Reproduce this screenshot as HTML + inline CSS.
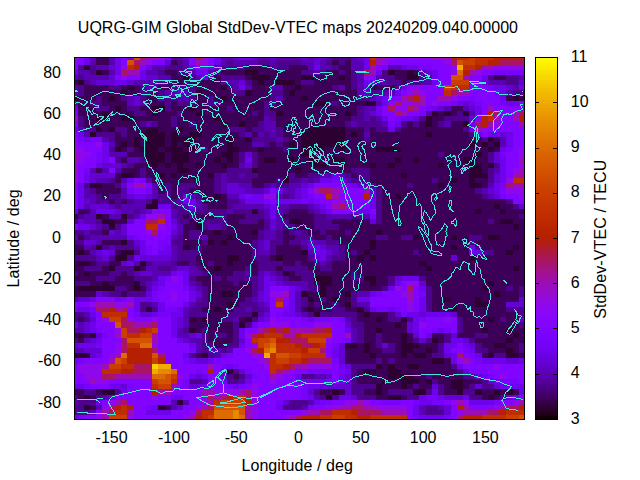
<!DOCTYPE html>
<html><head><meta charset="utf-8"><title>UQRG-GIM Global StdDev-VTEC map</title>
<style>
html,body{margin:0;padding:0;background:#fff;}
body{width:640px;height:480px;overflow:hidden;}
svg{display:block;}
text{font-family:"Liberation Sans",sans-serif;font-size:16px;fill:#000;}
</style></head><body>
<svg width="640" height="480" viewBox="0 0 640 480">
<rect width="640" height="480" fill="#fff"/>
<g shape-rendering="crispEdges">
<path fill="#2d0032" d="M84 65h6v5h-6zM96 70h6v5h-6zM245 70h13v5h-13zM388 70h7v5h-7zM407 70h6v5h-6zM183 75h6v5h-6zM252 75h18v5h-18zM301 75h13v5h-13zM339 75h6v5h-6zM407 75h12v5h-12zM78 80h6v5h-6zM258 80h6v5h-6zM276 80h19v5h-19zM127 85h7v5h-7zM221 85h6v5h-6zM295 85h6v5h-6zM121 90h6v6h-6zM196 90h6v6h-6zM245 90h7v6h-7zM289 90h6v6h-6zM74 96h4v5h-4zM109 96h6v5h-6zM221 96h6v5h-6zM301 96h7v5h-7zM513 96h6v5h-6zM314 101h12v5h-12zM364 101h12v5h-12zM115 106h6v5h-6zM152 106h13v5h-13zM189 106h7v5h-7zM102 111h7v5h-7zM152 111h6v5h-6zM196 111h6v5h-6zM276 111h7v5h-7zM345 111h6v5h-6zM432 111h6v5h-6zM444 111h7v5h-7zM463 111h6v5h-6zM96 116h13v5h-13zM121 116h13v5h-13zM214 116h7v5h-7zM426 116h6v5h-6zM221 121h6v6h-6zM239 121h6v6h-6zM426 121h6v6h-6zM463 121h6v6h-6zM96 127h6v5h-6zM109 127h6v5h-6zM146 127h12v5h-12zM177 127h6v5h-6zM308 127h37v5h-37zM90 132h6v5h-6zM140 132h25v5h-25zM171 132h6v5h-6zM189 132h13v5h-13zM301 132h44v5h-44zM351 132h6v5h-6zM426 132h6v5h-6zM134 137h6v5h-6zM146 137h19v5h-19zM171 137h25v5h-25zM227 137h6v5h-6zM245 137h7v5h-7zM301 137h44v5h-44zM488 137h6v5h-6zM121 142h6v5h-6zM134 142h6v5h-6zM146 142h19v5h-19zM171 142h6v5h-6zM183 142h6v5h-6zM227 142h6v5h-6zM289 142h6v5h-6zM301 142h44v5h-44zM469 142h6v5h-6zM482 142h6v5h-6zM494 142h6v5h-6zM115 147h6v5h-6zM140 147h18v5h-18zM165 147h18v5h-18zM189 147h7v5h-7zM227 147h12v5h-12zM258 147h6v5h-6zM301 147h25v5h-25zM339 147h6v5h-6zM376 147h25v5h-25zM488 147h6v5h-6zM146 152h19v5h-19zM171 152h18v5h-18zM221 152h12v5h-12zM301 152h13v5h-13zM475 152h7v5h-7zM146 157h19v6h-19zM171 157h18v6h-18zM214 157h7v6h-7zM227 157h6v6h-6zM264 157h12v6h-12zM289 157h6v6h-6zM308 157h12v6h-12zM332 157h13v6h-13zM395 157h6v6h-6zM413 157h6v6h-6zM463 157h12v6h-12zM152 163h6v5h-6zM165 163h6v5h-6zM177 163h6v5h-6zM196 163h6v5h-6zM221 163h6v5h-6zM314 163h12v5h-12zM339 163h6v5h-6zM370 163h6v5h-6zM388 163h7v5h-7zM438 163h6v5h-6zM469 163h13v5h-13zM488 163h6v5h-6zM177 168h12v5h-12zM252 168h6v5h-6zM295 168h6v5h-6zM469 168h13v5h-13zM121 173h13v5h-13zM158 173h7v5h-7zM171 173h6v5h-6zM208 173h6v5h-6zM401 173h6v5h-6zM469 173h19v5h-19zM283 178h6v5h-6zM451 178h6v5h-6zM469 178h6v5h-6zM90 183h12v5h-12zM438 183h6v5h-6zM469 183h13v5h-13zM214 194h7v5h-7zM395 194h6v5h-6zM152 199h6v5h-6zM146 204h12v5h-12zM494 204h6v5h-6zM252 209h6v5h-6zM475 209h7v5h-7zM500 209h6v5h-6zM96 214h6v5h-6zM121 214h6v5h-6zM102 219h13v5h-13zM289 219h12v5h-12zM500 219h13v5h-13zM109 224h6v6h-6zM196 224h6v6h-6zM513 224h6v6h-6zM214 230h7v5h-7zM252 230h6v5h-6zM376 230h6v5h-6zM227 235h6v5h-6zM413 235h6v5h-6zM451 235h6v5h-6zM488 235h12v5h-12zM121 240h6v5h-6zM208 240h6v5h-6zM221 240h6v5h-6zM370 240h6v5h-6zM96 245h6v5h-6zM183 245h6v5h-6zM370 245h6v5h-6zM451 245h6v5h-6zM513 245h6v5h-6zM78 250h6v5h-6zM121 250h13v5h-13zM301 250h7v5h-7zM364 250h6v5h-6zM506 250h7v5h-7zM115 255h12v6h-12zM227 255h12v6h-12zM276 255h7v6h-7zM357 255h7v6h-7zM370 255h6v6h-6zM469 255h6v6h-6zM78 261h12v5h-12zM140 261h6v5h-6zM227 261h6v5h-6zM419 261h7v5h-7zM109 266h6v5h-6zM134 266h6v5h-6zM214 266h7v5h-7zM426 266h6v5h-6zM513 266h6v5h-6zM84 271h6v5h-6zM283 271h6v5h-6zM314 276h18v5h-18zM364 276h12v5h-12zM102 281h7v5h-7zM134 281h6v5h-6zM320 281h12v5h-12zM370 281h6v5h-6zM488 281h6v5h-6zM78 286h37v5h-37zM134 286h6v5h-6zM320 286h6v5h-6zM482 286h6v5h-6zM221 291h12v6h-12zM301 291h7v6h-7zM320 291h6v6h-6zM345 291h6v6h-6zM494 291h6v6h-6zM308 297h6v5h-6zM332 297h7v5h-7zM444 297h7v5h-7zM475 297h7v5h-7zM227 302h6v5h-6zM345 302h6v5h-6zM475 302h13v5h-13zM146 307h6v5h-6zM214 307h7v5h-7zM308 307h6v5h-6zM357 307h7v5h-7zM451 307h6v5h-6zM252 312h6v5h-6zM314 312h6v5h-6zM364 312h6v5h-6zM189 317h7v5h-7zM202 317h6v5h-6zM245 317h7v5h-7zM376 317h6v5h-6zM401 317h6v5h-6zM488 317h6v5h-6zM239 322h6v6h-6zM395 322h6v6h-6zM189 328h7v5h-7zM376 328h6v5h-6zM482 328h6v5h-6zM506 328h7v5h-7zM78 333h6v5h-6zM90 333h6v5h-6zM401 333h6v5h-6zM513 333h6v5h-6zM401 338h6v5h-6zM432 338h6v5h-6zM506 338h7v5h-7zM345 343h12v5h-12zM364 343h6v5h-6zM401 343h18v5h-18zM494 343h12v5h-12zM364 348h6v5h-6zM401 348h12v5h-12zM426 348h6v5h-6zM506 348h7v5h-7zM74 353h16v5h-16zM202 353h6v5h-6zM370 353h6v5h-6zM401 353h6v5h-6zM413 353h13v5h-13zM488 353h6v5h-6zM506 353h13v5h-13zM432 358h12v6h-12zM376 364h6v5h-6zM388 364h7v5h-7zM407 364h12v5h-12zM227 369h6v5h-6zM364 369h12v5h-12zM388 369h13v5h-13zM388 374h25v5h-25zM382 379h6v5h-6zM401 379h18v5h-18zM426 379h6v5h-6zM451 379h12v5h-12zM376 384h6v5h-6zM401 384h6v5h-6zM451 384h12v5h-12zM102 389h13v6h-13zM332 389h7v6h-7zM376 389h6v6h-6zM413 389h13v6h-13zM457 389h6v6h-6zM475 389h7v6h-7zM494 389h6v6h-6zM506 389h7v6h-7zM84 395h6v5h-6zM326 395h6v5h-6zM388 395h13v5h-13zM488 395h6v5h-6zM177 400h6v5h-6zM84 405h6v5h-6zM158 405h7v5h-7z"/>
<path fill="#3c0058" d="M96 57h13v3h-13zM96 60h13v5h-13zM171 60h6v5h-6zM332 60h7v5h-7zM345 60h6v5h-6zM245 65h25v5h-25zM289 65h19v5h-19zM339 65h12v5h-12zM102 70h7v5h-7zM165 70h12v5h-12zM221 70h24v5h-24zM258 70h43v5h-43zM326 70h13v5h-13zM345 70h6v5h-6zM395 70h12v5h-12zM413 70h6v5h-6zM171 75h12v5h-12zM214 75h7v5h-7zM245 75h7v5h-7zM270 75h31v5h-31zM314 75h25v5h-25zM345 75h6v5h-6zM395 75h12v5h-12zM494 75h12v5h-12zM74 80h4v5h-4zM171 80h12v5h-12zM189 80h32v5h-32zM252 80h6v5h-6zM264 80h12v5h-12zM295 80h6v5h-6zM314 80h37v5h-37zM401 80h6v5h-6zM84 85h25v5h-25zM121 85h6v5h-6zM134 85h6v5h-6zM158 85h13v5h-13zM196 85h25v5h-25zM252 85h18v5h-18zM283 85h12v5h-12zM301 85h31v5h-31zM345 85h6v5h-6zM370 85h25v5h-25zM84 90h37v6h-37zM127 90h13v6h-13zM152 90h6v6h-6zM202 90h31v6h-31zM252 90h18v6h-18zM283 90h6v6h-6zM295 90h62v6h-62zM78 96h18v5h-18zM102 96h7v5h-7zM115 96h6v5h-6zM146 96h12v5h-12zM196 96h12v5h-12zM214 96h7v5h-7zM227 96h43v5h-43zM283 96h18v5h-18zM308 96h49v5h-49zM506 96h7v5h-7zM519 96h6v5h-6zM78 101h12v5h-12zM102 101h25v5h-25zM146 101h19v5h-19zM171 101h6v5h-6zM196 101h12v5h-12zM221 101h43v5h-43zM276 101h38v5h-38zM326 101h6v5h-6zM339 101h25v5h-25zM78 106h18v5h-18zM109 106h6v5h-6zM121 106h6v5h-6zM140 106h12v5h-12zM171 106h18v5h-18zM196 106h31v5h-31zM233 106h31v5h-31zM270 106h87v5h-87zM451 106h12v5h-12zM78 111h24v5h-24zM109 111h25v5h-25zM146 111h6v5h-6zM158 111h19v5h-19zM183 111h13v5h-13zM202 111h50v5h-50zM258 111h6v5h-6zM283 111h62v5h-62zM351 111h6v5h-6zM438 111h6v5h-6zM451 111h6v5h-6zM84 116h12v5h-12zM109 116h12v5h-12zM134 116h37v5h-37zM177 116h37v5h-37zM221 116h43v5h-43zM276 116h75v5h-75zM432 116h12v5h-12zM84 121h56v6h-56zM158 121h13v6h-13zM177 121h12v6h-12zM196 121h25v6h-25zM227 121h12v6h-12zM245 121h13v6h-13zM276 121h69v6h-69zM407 121h6v6h-6zM419 121h7v6h-7zM432 121h6v6h-6zM451 121h12v6h-12zM102 127h7v5h-7zM127 127h19v5h-19zM158 127h19v5h-19zM183 127h44v5h-44zM245 127h7v5h-7zM283 127h25v5h-25zM345 127h19v5h-19zM370 127h6v5h-6zM401 127h62v5h-62zM115 132h6v5h-6zM127 132h13v5h-13zM165 132h6v5h-6zM177 132h12v5h-12zM202 132h37v5h-37zM252 132h6v5h-6zM283 132h18v5h-18zM345 132h6v5h-6zM357 132h7v5h-7zM370 132h56v5h-56zM432 132h37v5h-37zM115 137h19v5h-19zM140 137h6v5h-6zM165 137h6v5h-6zM196 137h31v5h-31zM233 137h12v5h-12zM289 137h12v5h-12zM345 137h19v5h-19zM370 137h112v5h-112zM494 137h6v5h-6zM115 142h6v5h-6zM127 142h7v5h-7zM140 142h6v5h-6zM165 142h6v5h-6zM177 142h6v5h-6zM189 142h38v5h-38zM233 142h19v5h-19zM270 142h6v5h-6zM283 142h6v5h-6zM295 142h6v5h-6zM345 142h124v5h-124zM475 142h7v5h-7zM488 142h6v5h-6zM121 147h6v5h-6zM134 147h6v5h-6zM158 147h7v5h-7zM183 147h6v5h-6zM196 147h6v5h-6zM208 147h19v5h-19zM239 147h19v5h-19zM264 147h19v5h-19zM289 147h12v5h-12zM326 147h13v5h-13zM345 147h31v5h-31zM401 147h87v5h-87zM494 147h6v5h-6zM127 152h19v5h-19zM165 152h6v5h-6zM189 152h32v5h-32zM233 152h6v5h-6zM258 152h43v5h-43zM314 152h124v5h-124zM444 152h31v5h-31zM482 152h6v5h-6zM121 157h6v6h-6zM165 157h6v6h-6zM189 157h25v6h-25zM221 157h6v6h-6zM233 157h6v6h-6zM258 157h6v6h-6zM276 157h13v6h-13zM295 157h13v6h-13zM320 157h12v6h-12zM345 157h50v6h-50zM401 157h12v6h-12zM419 157h44v6h-44zM475 157h13v6h-13zM134 163h18v5h-18zM158 163h7v5h-7zM171 163h6v5h-6zM183 163h13v5h-13zM202 163h19v5h-19zM227 163h12v5h-12zM258 163h56v5h-56zM326 163h13v5h-13zM345 163h25v5h-25zM376 163h12v5h-12zM395 163h43v5h-43zM444 163h25v5h-25zM482 163h6v5h-6zM96 168h6v5h-6zM121 168h19v5h-19zM146 168h31v5h-31zM189 168h38v5h-38zM258 168h37v5h-37zM301 168h50v5h-50zM370 168h99v5h-99zM482 168h6v5h-6zM115 173h6v5h-6zM134 173h6v5h-6zM146 173h12v5h-12zM165 173h6v5h-6zM177 173h31v5h-31zM258 173h31v5h-31zM295 173h13v5h-13zM351 173h6v5h-6zM370 173h31v5h-31zM407 173h62v5h-62zM115 178h6v5h-6zM152 178h62v5h-62zM252 178h24v5h-24zM370 178h62v5h-62zM438 178h13v5h-13zM457 178h12v5h-12zM475 178h13v5h-13zM102 183h13v5h-13zM158 183h7v5h-7zM171 183h6v5h-6zM196 183h18v5h-18zM252 183h12v5h-12zM376 183h31v5h-31zM413 183h25v5h-25zM444 183h25v5h-25zM482 183h6v5h-6zM96 188h25v6h-25zM158 188h7v6h-7zM171 188h6v6h-6zM189 188h25v6h-25zM382 188h93v6h-93zM102 194h7v5h-7zM171 194h6v5h-6zM202 194h12v5h-12zM221 194h6v5h-6zM382 194h13v5h-13zM401 194h81v5h-81zM109 199h6v5h-6zM121 199h6v5h-6zM202 199h25v5h-25zM382 199h124v5h-124zM208 204h19v5h-19zM382 204h112v5h-112zM500 204h13v5h-13zM78 209h12v5h-12zM289 209h19v5h-19zM382 209h93v5h-93zM482 209h18v5h-18zM506 209h19v5h-19zM74 214h4v5h-4zM102 214h7v5h-7zM183 214h6v5h-6zM196 214h18v5h-18zM227 214h18v5h-18zM283 214h31v5h-31zM382 214h137v5h-137zM115 219h12v5h-12zM189 219h13v5h-13zM227 219h12v5h-12zM258 219h6v5h-6zM301 219h13v5h-13zM332 219h38v5h-38zM382 219h106v5h-106zM494 219h6v5h-6zM513 219h12v5h-12zM183 224h13v6h-13zM227 224h37v6h-37zM295 224h19v6h-19zM339 224h174v6h-174zM519 224h6v6h-6zM102 230h7v5h-7zM183 230h6v5h-6zM202 230h12v5h-12zM221 230h31v5h-31zM283 230h6v5h-6zM308 230h12v5h-12zM326 230h19v5h-19zM351 230h25v5h-25zM382 230h143v5h-143zM78 235h6v5h-6zM183 235h6v5h-6zM208 235h19v5h-19zM233 235h25v5h-25zM283 235h12v5h-12zM314 235h12v5h-12zM332 235h44v5h-44zM388 235h13v5h-13zM419 235h32v5h-32zM457 235h12v5h-12zM482 235h6v5h-6zM500 235h25v5h-25zM102 240h19v5h-19zM183 240h19v5h-19zM214 240h7v5h-7zM227 240h25v5h-25zM283 240h6v5h-6zM339 240h31v5h-31zM376 240h93v5h-93zM475 240h50v5h-50zM74 245h10v5h-10zM189 245h7v5h-7zM202 245h50v5h-50zM276 245h25v5h-25zM345 245h25v5h-25zM376 245h75v5h-75zM457 245h12v5h-12zM482 245h31v5h-31zM519 245h6v5h-6zM74 250h4v5h-4zM84 250h6v5h-6zM115 250h6v5h-6zM202 250h50v5h-50zM276 250h25v5h-25zM345 250h6v5h-6zM357 250h7v5h-7zM370 250h43v5h-43zM419 250h50v5h-50zM494 250h12v5h-12zM513 250h12v5h-12zM196 255h31v6h-31zM239 255h13v6h-13zM270 255h6v6h-6zM283 255h25v6h-25zM345 255h12v6h-12zM364 255h6v6h-6zM376 255h75v6h-75zM457 255h12v6h-12zM475 255h50v6h-50zM74 261h4v5h-4zM90 261h6v5h-6zM109 261h12v5h-12zM177 261h12v5h-12zM196 261h12v5h-12zM214 261h13v5h-13zM233 261h25v5h-25zM283 261h12v5h-12zM301 261h13v5h-13zM332 261h87v5h-87zM426 261h99v5h-99zM74 266h10v5h-10zM102 266h7v5h-7zM140 266h6v5h-6zM202 266h12v5h-12zM221 266h24v5h-24zM252 266h6v5h-6zM276 266h7v5h-7zM308 266h12v5h-12zM332 266h94v5h-94zM432 266h81v5h-81zM519 266h6v5h-6zM78 271h6v5h-6zM90 271h19v5h-19zM121 271h6v5h-6zM208 271h25v5h-25zM252 271h6v5h-6zM289 271h6v5h-6zM314 271h37v5h-37zM357 271h168v5h-168zM74 276h22v5h-22zM115 276h19v5h-19zM196 276h18v5h-18zM221 276h6v5h-6zM289 276h12v5h-12zM332 276h19v5h-19zM376 276h12v5h-12zM426 276h99v5h-99zM90 281h12v5h-12zM109 281h25v5h-25zM202 281h31v5h-31zM239 281h13v5h-13zM314 281h6v5h-6zM332 281h38v5h-38zM376 281h12v5h-12zM426 281h62v5h-62zM494 281h31v5h-31zM74 286h4v5h-4zM127 286h7v5h-7zM140 286h6v5h-6zM208 286h44v5h-44zM326 286h56v5h-56zM432 286h50v5h-50zM488 286h18v5h-18zM513 286h6v5h-6zM74 291h22v6h-22zM121 291h6v6h-6zM208 291h13v6h-13zM233 291h19v6h-19zM308 291h12v6h-12zM326 291h19v6h-19zM432 291h62v6h-62zM500 291h19v6h-19zM208 297h37v5h-37zM314 297h6v5h-6zM326 297h6v5h-6zM339 297h12v5h-12zM432 297h12v5h-12zM451 297h24v5h-24zM482 297h37v5h-37zM208 302h19v5h-19zM233 302h6v5h-6zM308 302h6v5h-6zM320 302h12v5h-12zM339 302h6v5h-6zM432 302h43v5h-43zM488 302h18v5h-18zM202 307h12v5h-12zM221 307h12v5h-12zM301 307h7v5h-7zM314 307h18v5h-18zM345 307h12v5h-12zM432 307h19v5h-19zM457 307h49v5h-49zM208 312h19v5h-19zM357 312h7v5h-7zM370 312h18v5h-18zM457 312h62v5h-62zM78 317h6v5h-6zM196 317h6v5h-6zM208 317h13v5h-13zM239 317h6v5h-6zM357 317h19v5h-19zM382 317h6v5h-6zM463 317h25v5h-25zM494 317h6v5h-6zM506 317h13v5h-13zM189 322h44v6h-44zM364 322h31v6h-31zM401 322h6v6h-6zM463 322h56v6h-56zM196 328h6v5h-6zM208 328h25v5h-25zM364 328h12v5h-12zM382 328h25v5h-25zM463 328h19v5h-19zM488 328h18v5h-18zM513 328h12v5h-12zM74 333h4v5h-4zM84 333h6v5h-6zM208 333h6v5h-6zM227 333h6v5h-6zM364 333h12v5h-12zM382 333h19v5h-19zM407 333h6v5h-6zM432 333h12v5h-12zM457 333h18v5h-18zM488 333h25v5h-25zM519 333h6v5h-6zM78 338h6v5h-6zM208 338h25v5h-25zM364 338h12v5h-12zM382 338h19v5h-19zM407 338h6v5h-6zM438 338h6v5h-6zM475 338h31v5h-31zM513 338h12v5h-12zM214 343h13v5h-13zM357 343h7v5h-7zM370 343h6v5h-6zM395 343h6v5h-6zM419 343h19v5h-19zM482 343h12v5h-12zM506 343h13v5h-13zM345 348h19v5h-19zM370 348h12v5h-12zM395 348h6v5h-6zM413 348h13v5h-13zM432 348h6v5h-6zM488 348h18v5h-18zM513 348h6v5h-6zM196 353h6v5h-6zM345 353h25v5h-25zM376 353h25v5h-25zM407 353h6v5h-6zM426 353h6v5h-6zM482 353h6v5h-6zM519 353h6v5h-6zM345 358h31v6h-31zM382 358h6v6h-6zM395 358h37v6h-37zM444 358h7v6h-7zM382 364h6v5h-6zM395 364h12v5h-12zM419 364h32v5h-32zM357 369h7v5h-7zM376 369h12v5h-12zM401 369h56v5h-56zM233 374h6v5h-6zM357 374h31v5h-31zM413 374h13v5h-13zM432 374h31v5h-31zM357 379h25v5h-25zM388 379h13v5h-13zM419 379h7v5h-7zM438 379h13v5h-13zM463 379h19v5h-19zM382 384h19v5h-19zM407 384h6v5h-6zM419 384h13v5h-13zM444 384h7v5h-7zM463 384h6v5h-6zM74 389h10v6h-10zM96 389h6v6h-6zM320 389h12v6h-12zM339 389h6v6h-6zM364 389h12v6h-12zM382 389h6v6h-6zM444 389h13v6h-13zM482 389h12v6h-12zM500 389h6v6h-6zM513 389h6v6h-6zM78 395h6v5h-6zM90 395h6v5h-6zM376 395h12v5h-12zM401 395h6v5h-6zM482 395h6v5h-6zM494 395h6v5h-6zM90 405h6v5h-6zM165 405h6v5h-6z"/>
<path fill="#4e008e" d="M332 57h19v3h-19zM177 60h6v5h-6zM227 60h6v5h-6zM258 60h12v5h-12zM276 60h25v5h-25zM326 60h6v5h-6zM339 60h6v5h-6zM78 65h6v5h-6zM90 65h6v5h-6zM165 65h18v5h-18zM221 65h24v5h-24zM270 65h19v5h-19zM332 65h7v5h-7zM90 70h6v5h-6zM158 70h7v5h-7zM177 70h12v5h-12zM214 70h7v5h-7zM301 70h13v5h-13zM320 70h6v5h-6zM339 70h6v5h-6zM351 70h6v5h-6zM382 70h6v5h-6zM78 75h6v5h-6zM189 75h7v5h-7zM208 75h6v5h-6zM221 75h24v5h-24zM351 75h6v5h-6zM382 75h13v5h-13zM419 75h7v5h-7zM488 75h6v5h-6zM506 75h13v5h-13zM84 80h6v5h-6zM158 80h13v5h-13zM183 80h6v5h-6zM221 80h6v5h-6zM245 80h7v5h-7zM301 80h13v5h-13zM351 80h6v5h-6zM388 80h13v5h-13zM407 80h12v5h-12zM506 80h13v5h-13zM78 85h6v5h-6zM109 85h12v5h-12zM140 85h6v5h-6zM152 85h6v5h-6zM171 85h25v5h-25zM227 85h6v5h-6zM332 85h7v5h-7zM351 85h6v5h-6zM395 85h6v5h-6zM78 90h6v6h-6zM140 90h12v6h-12zM158 90h7v6h-7zM189 90h7v6h-7zM233 90h12v6h-12zM270 90h13v6h-13zM370 90h12v6h-12zM513 90h12v6h-12zM96 96h6v5h-6zM121 96h6v5h-6zM140 96h6v5h-6zM165 96h12v5h-12zM189 96h7v5h-7zM208 96h6v5h-6zM270 96h6v5h-6zM357 96h13v5h-13zM90 101h12v5h-12zM165 101h6v5h-6zM177 101h19v5h-19zM208 101h13v5h-13zM264 101h12v5h-12zM332 101h7v5h-7zM96 106h13v5h-13zM127 106h13v5h-13zM165 106h6v5h-6zM227 106h6v5h-6zM264 106h6v5h-6zM357 106h7v5h-7zM134 111h12v5h-12zM177 111h6v5h-6zM252 111h6v5h-6zM264 111h12v5h-12zM357 111h7v5h-7zM457 111h6v5h-6zM78 116h6v5h-6zM171 116h6v5h-6zM270 116h6v5h-6zM351 116h13v5h-13zM370 116h6v5h-6zM419 116h7v5h-7zM444 116h25v5h-25zM78 121h6v6h-6zM140 121h6v6h-6zM152 121h6v6h-6zM171 121h6v6h-6zM189 121h7v6h-7zM258 121h6v6h-6zM345 121h6v6h-6zM357 121h25v6h-25zM401 121h6v6h-6zM413 121h6v6h-6zM438 121h6v6h-6zM84 127h12v5h-12zM115 127h12v5h-12zM227 127h18v5h-18zM252 127h12v5h-12zM276 127h7v5h-7zM364 127h6v5h-6zM376 127h12v5h-12zM395 127h6v5h-6zM463 127h6v5h-6zM96 132h19v5h-19zM121 132h6v5h-6zM239 132h6v5h-6zM264 132h6v5h-6zM276 132h7v5h-7zM469 132h6v5h-6zM109 137h6v5h-6zM252 137h24v5h-24zM283 137h6v5h-6zM364 137h6v5h-6zM482 137h6v5h-6zM264 142h6v5h-6zM276 142h7v5h-7zM109 147h6v5h-6zM127 147h7v5h-7zM202 147h6v5h-6zM283 147h6v5h-6zM239 152h6v5h-6zM252 152h6v5h-6zM438 152h6v5h-6zM488 152h6v5h-6zM115 157h6v6h-6zM140 157h6v6h-6zM239 157h6v6h-6zM252 157h6v6h-6zM488 157h6v6h-6zM127 163h7v5h-7zM252 163h6v5h-6zM494 163h6v5h-6zM140 168h6v5h-6zM227 168h25v5h-25zM351 168h19v5h-19zM488 168h6v5h-6zM140 173h6v5h-6zM214 173h7v5h-7zM227 173h12v5h-12zM245 173h13v5h-13zM289 173h6v5h-6zM308 173h12v5h-12zM345 173h6v5h-6zM357 173h13v5h-13zM488 173h6v5h-6zM109 178h6v5h-6zM214 178h7v5h-7zM227 178h25v5h-25zM276 178h7v5h-7zM289 178h12v5h-12zM308 178h6v5h-6zM351 178h19v5h-19zM432 178h6v5h-6zM488 178h6v5h-6zM84 183h6v5h-6zM115 183h6v5h-6zM165 183h6v5h-6zM177 183h19v5h-19zM214 183h7v5h-7zM264 183h6v5h-6zM276 183h13v5h-13zM370 183h6v5h-6zM407 183h6v5h-6zM90 188h6v6h-6zM165 188h6v6h-6zM177 188h12v6h-12zM214 188h7v6h-7zM376 188h6v6h-6zM475 188h7v6h-7zM96 194h6v5h-6zM109 194h12v5h-12zM158 194h13v5h-13zM177 194h6v5h-6zM196 194h6v5h-6zM283 194h6v5h-6zM376 194h6v5h-6zM482 194h6v5h-6zM96 199h13v5h-13zM115 199h6v5h-6zM127 199h7v5h-7zM146 199h6v5h-6zM158 199h19v5h-19zM227 199h12v5h-12zM376 199h6v5h-6zM506 199h7v5h-7zM115 204h6v5h-6zM171 204h12v5h-12zM202 204h6v5h-6zM227 204h6v5h-6zM289 204h19v5h-19zM376 204h6v5h-6zM513 204h6v5h-6zM134 209h6v5h-6zM177 209h12v5h-12zM196 209h31v5h-31zM233 209h19v5h-19zM258 209h6v5h-6zM283 209h6v5h-6zM308 209h6v5h-6zM376 209h6v5h-6zM78 214h6v5h-6zM127 214h7v5h-7zM177 214h6v5h-6zM189 214h7v5h-7zM214 214h13v5h-13zM245 214h19v5h-19zM314 214h12v5h-12zM351 214h13v5h-13zM376 214h6v5h-6zM519 214h6v5h-6zM74 219h4v5h-4zM96 219h6v5h-6zM177 219h12v5h-12zM202 219h25v5h-25zM239 219h19v5h-19zM264 219h6v5h-6zM283 219h6v5h-6zM314 219h18v5h-18zM376 219h6v5h-6zM488 219h6v5h-6zM102 224h7v6h-7zM115 224h6v6h-6zM202 224h6v6h-6zM221 224h6v6h-6zM264 224h6v6h-6zM283 224h12v6h-12zM314 224h25v6h-25zM74 230h10v5h-10zM90 230h12v5h-12zM189 230h13v5h-13zM258 230h6v5h-6zM276 230h7v5h-7zM289 230h6v5h-6zM301 230h7v5h-7zM320 230h6v5h-6zM345 230h6v5h-6zM84 235h6v5h-6zM177 235h6v5h-6zM189 235h13v5h-13zM258 235h6v5h-6zM276 235h7v5h-7zM295 235h19v5h-19zM326 235h6v5h-6zM376 235h12v5h-12zM401 235h12v5h-12zM469 235h13v5h-13zM74 240h10v5h-10zM127 240h7v5h-7zM171 240h12v5h-12zM202 240h6v5h-6zM252 240h6v5h-6zM270 240h13v5h-13zM289 240h12v5h-12zM326 240h13v5h-13zM469 240h6v5h-6zM90 245h6v5h-6zM102 245h7v5h-7zM115 245h19v5h-19zM177 245h6v5h-6zM196 245h6v5h-6zM252 245h6v5h-6zM270 245h6v5h-6zM301 245h7v5h-7zM339 245h6v5h-6zM475 245h7v5h-7zM134 250h6v5h-6zM177 250h25v5h-25zM252 250h6v5h-6zM270 250h6v5h-6zM339 250h6v5h-6zM351 250h6v5h-6zM413 250h6v5h-6zM482 250h12v5h-12zM74 255h22v6h-22zM109 255h6v6h-6zM127 255h7v6h-7zM177 255h19v6h-19zM252 255h18v6h-18zM308 255h6v6h-6zM332 255h13v6h-13zM96 261h13v5h-13zM146 261h6v5h-6zM171 261h6v5h-6zM189 261h7v5h-7zM208 261h6v5h-6zM258 261h25v5h-25zM295 261h6v5h-6zM314 261h6v5h-6zM326 261h6v5h-6zM84 266h18v5h-18zM115 266h19v5h-19zM158 266h13v5h-13zM196 266h6v5h-6zM245 266h7v5h-7zM258 266h18v5h-18zM283 266h25v5h-25zM320 266h12v5h-12zM74 271h4v5h-4zM109 271h12v5h-12zM127 271h7v5h-7zM202 271h6v5h-6zM233 271h12v5h-12zM276 271h7v5h-7zM295 271h19v5h-19zM351 271h6v5h-6zM96 276h19v5h-19zM134 276h18v5h-18zM189 276h7v5h-7zM214 276h7v5h-7zM227 276h31v5h-31zM283 276h6v5h-6zM301 276h13v5h-13zM351 276h13v5h-13zM388 276h7v5h-7zM419 276h7v5h-7zM74 281h16v5h-16zM140 281h6v5h-6zM196 281h6v5h-6zM233 281h6v5h-6zM252 281h6v5h-6zM308 281h6v5h-6zM388 281h7v5h-7zM115 286h12v5h-12zM202 286h6v5h-6zM252 286h6v5h-6zM308 286h12v5h-12zM382 286h6v5h-6zM426 286h6v5h-6zM506 286h7v5h-7zM519 286h6v5h-6zM109 291h12v6h-12zM127 291h19v6h-19zM202 291h6v6h-6zM252 291h6v6h-6zM351 291h6v6h-6zM426 291h6v6h-6zM519 291h6v6h-6zM202 297h6v5h-6zM245 297h7v5h-7zM301 297h7v5h-7zM320 297h6v5h-6zM351 297h6v5h-6zM426 297h6v5h-6zM140 302h12v5h-12zM196 302h12v5h-12zM239 302h19v5h-19zM301 302h7v5h-7zM314 302h6v5h-6zM332 302h7v5h-7zM351 302h6v5h-6zM426 302h6v5h-6zM140 307h6v5h-6zM152 307h6v5h-6zM189 307h13v5h-13zM233 307h12v5h-12zM252 307h12v5h-12zM332 307h13v5h-13zM364 307h6v5h-6zM426 307h6v5h-6zM506 307h19v5h-19zM74 312h10v5h-10zM189 312h19v5h-19zM227 312h25v5h-25zM308 312h6v5h-6zM320 312h37v5h-37zM388 312h7v5h-7zM519 312h6v5h-6zM74 317h4v5h-4zM84 317h6v5h-6zM221 317h12v5h-12zM252 317h6v5h-6zM351 317h6v5h-6zM388 317h13v5h-13zM407 317h6v5h-6zM457 317h6v5h-6zM500 317h6v5h-6zM233 322h6v6h-6zM245 322h7v6h-7zM351 322h13v6h-13zM457 322h6v6h-6zM519 322h6v6h-6zM183 328h6v5h-6zM202 328h6v5h-6zM233 328h6v5h-6zM357 328h7v5h-7zM457 328h6v5h-6zM202 333h6v5h-6zM214 333h13v5h-13zM233 333h6v5h-6zM357 333h7v5h-7zM376 333h6v5h-6zM444 333h7v5h-7zM475 333h13v5h-13zM74 338h4v5h-4zM202 338h6v5h-6zM233 338h6v5h-6zM357 338h7v5h-7zM376 338h6v5h-6zM413 338h6v5h-6zM426 338h6v5h-6zM444 338h7v5h-7zM469 338h6v5h-6zM202 343h12v5h-12zM227 343h12v5h-12zM376 343h6v5h-6zM388 343h7v5h-7zM438 343h6v5h-6zM475 343h7v5h-7zM519 343h6v5h-6zM202 348h6v5h-6zM221 348h6v5h-6zM382 348h13v5h-13zM438 348h6v5h-6zM475 348h13v5h-13zM519 348h6v5h-6zM189 353h7v5h-7zM208 353h6v5h-6zM432 353h12v5h-12zM494 353h12v5h-12zM376 358h6v6h-6zM388 358h7v6h-7zM351 364h25v5h-25zM451 364h6v5h-6zM233 369h6v5h-6zM351 369h6v5h-6zM457 369h6v5h-6zM227 374h6v5h-6zM239 374h6v5h-6zM301 374h13v5h-13zM351 374h6v5h-6zM426 374h6v5h-6zM463 374h12v5h-12zM189 379h13v5h-13zM227 379h12v5h-12zM351 379h6v5h-6zM432 379h6v5h-6zM482 379h6v5h-6zM351 384h25v5h-25zM413 384h6v5h-6zM438 384h6v5h-6zM469 384h6v5h-6zM482 384h12v5h-12zM84 389h12v6h-12zM115 389h6v6h-6zM314 389h6v6h-6zM351 389h13v6h-13zM388 389h25v6h-25zM426 389h6v6h-6zM438 389h6v6h-6zM463 389h12v6h-12zM74 395h4v5h-4zM96 395h6v5h-6zM320 395h6v5h-6zM332 395h7v5h-7zM357 395h19v5h-19zM407 395h12v5h-12zM469 395h13v5h-13zM500 395h6v5h-6zM78 400h18v5h-18zM289 400h19v5h-19zM74 405h10v5h-10zM283 405h18v5h-18zM426 405h12v5h-12zM74 410h16v5h-16zM426 410h18v5h-18z"/>
<path fill="#5a00b4" d="M90 57h6v3h-6zM109 57h6v3h-6zM171 57h12v3h-12zM221 57h12v3h-12zM258 57h12v3h-12zM276 57h25v3h-25zM308 57h6v3h-6zM326 57h6v3h-6zM351 57h6v3h-6zM90 60h6v5h-6zM109 60h6v5h-6zM183 60h6v5h-6zM221 60h6v5h-6zM233 60h25v5h-25zM270 60h6v5h-6zM301 60h13v5h-13zM320 60h6v5h-6zM351 60h13v5h-13zM96 65h13v5h-13zM152 65h13v5h-13zM183 65h6v5h-6zM214 65h7v5h-7zM308 65h6v5h-6zM320 65h12v5h-12zM351 65h13v5h-13zM388 65h13v5h-13zM78 70h12v5h-12zM109 70h6v5h-6zM146 70h12v5h-12zM189 70h7v5h-7zM208 70h6v5h-6zM314 70h6v5h-6zM357 70h7v5h-7zM419 70h7v5h-7zM74 75h4v5h-4zM84 75h25v5h-25zM158 75h13v5h-13zM196 75h6v5h-6zM357 75h7v5h-7zM376 75h6v5h-6zM426 75h6v5h-6zM519 75h6v5h-6zM90 80h6v5h-6zM134 80h24v5h-24zM227 80h12v5h-12zM357 80h7v5h-7zM376 80h12v5h-12zM419 80h13v5h-13zM488 80h18v5h-18zM74 85h4v5h-4zM146 85h6v5h-6zM233 85h6v5h-6zM245 85h7v5h-7zM270 85h13v5h-13zM339 85h6v5h-6zM357 85h7v5h-7zM513 85h6v5h-6zM74 90h4v6h-4zM165 90h12v6h-12zM183 90h6v6h-6zM357 90h7v6h-7zM382 90h13v6h-13zM506 90h7v6h-7zM127 96h7v5h-7zM158 96h7v5h-7zM177 96h12v5h-12zM276 96h7v5h-7zM370 96h6v5h-6zM74 101h4v5h-4zM127 101h7v5h-7zM140 101h6v5h-6zM376 101h6v5h-6zM364 106h12v5h-12zM444 106h7v5h-7zM463 106h6v5h-6zM364 111h6v5h-6zM426 111h6v5h-6zM469 111h6v5h-6zM264 116h6v5h-6zM364 116h6v5h-6zM376 116h6v5h-6zM146 121h6v6h-6zM264 121h12v6h-12zM351 121h6v6h-6zM382 121h6v6h-6zM444 121h7v6h-7zM78 127h6v5h-6zM264 127h12v5h-12zM84 132h6v5h-6zM245 132h7v5h-7zM258 132h6v5h-6zM270 132h6v5h-6zM364 132h6v5h-6zM102 137h7v5h-7zM276 137h7v5h-7zM500 137h6v5h-6zM109 142h6v5h-6zM252 142h12v5h-12zM500 142h6v5h-6zM109 152h18v5h-18zM127 157h13v6h-13zM121 163h6v5h-6zM239 163h6v5h-6zM90 168h6v5h-6zM102 168h7v5h-7zM115 168h6v5h-6zM494 168h6v5h-6zM221 173h6v5h-6zM239 173h6v5h-6zM320 173h12v5h-12zM339 173h6v5h-6zM96 178h13v5h-13zM121 178h6v5h-6zM146 178h6v5h-6zM221 178h6v5h-6zM301 178h7v5h-7zM314 178h6v5h-6zM345 178h6v5h-6zM152 183h6v5h-6zM221 183h6v5h-6zM239 183h13v5h-13zM270 183h6v5h-6zM289 183h12v5h-12zM364 183h6v5h-6zM488 183h6v5h-6zM84 188h6v6h-6zM121 188h6v6h-6zM152 188h6v6h-6zM221 188h6v6h-6zM245 188h19v6h-19zM283 188h12v6h-12zM482 188h6v6h-6zM84 194h12v5h-12zM121 194h6v5h-6zM152 194h6v5h-6zM189 194h7v5h-7zM227 194h12v5h-12zM276 194h7v5h-7zM289 194h6v5h-6zM488 194h6v5h-6zM90 199h6v5h-6zM134 199h12v5h-12zM177 199h6v5h-6zM196 199h6v5h-6zM239 199h6v5h-6zM84 204h6v5h-6zM109 204h6v5h-6zM121 204h25v5h-25zM183 204h6v5h-6zM196 204h6v5h-6zM233 204h31v5h-31zM276 204h13v5h-13zM308 204h6v5h-6zM90 209h6v5h-6zM121 209h13v5h-13zM140 209h6v5h-6zM171 209h6v5h-6zM189 209h7v5h-7zM227 209h6v5h-6zM264 209h6v5h-6zM276 209h7v5h-7zM314 209h6v5h-6zM84 214h12v5h-12zM109 214h12v5h-12zM134 214h6v5h-6zM171 214h6v5h-6zM264 214h6v5h-6zM276 214h7v5h-7zM326 214h25v5h-25zM364 214h6v5h-6zM84 219h12v5h-12zM276 219h7v5h-7zM96 224h6v6h-6zM177 224h6v6h-6zM208 224h13v6h-13zM276 224h7v6h-7zM84 230h6v5h-6zM115 230h6v5h-6zM177 230h6v5h-6zM264 230h12v5h-12zM295 230h6v5h-6zM74 235h4v5h-4zM90 235h37v5h-37zM171 235h6v5h-6zM202 235h6v5h-6zM264 235h12v5h-12zM96 240h6v5h-6zM258 240h6v5h-6zM301 240h7v5h-7zM314 240h12v5h-12zM84 245h6v5h-6zM109 245h6v5h-6zM134 245h6v5h-6zM171 245h6v5h-6zM258 245h6v5h-6zM326 245h13v5h-13zM90 250h6v5h-6zM171 250h6v5h-6zM258 250h12v5h-12zM308 250h6v5h-6zM332 250h7v5h-7zM96 255h6v6h-6zM171 255h6v6h-6zM326 255h6v6h-6zM134 261h6v5h-6zM152 261h19v5h-19zM320 261h6v5h-6zM146 266h12v5h-12zM171 266h6v5h-6zM189 266h7v5h-7zM134 271h6v5h-6zM152 271h19v5h-19zM189 271h13v5h-13zM245 271h7v5h-7zM258 271h6v5h-6zM270 271h6v5h-6zM152 276h6v5h-6zM258 276h6v5h-6zM276 276h7v5h-7zM146 281h6v5h-6zM189 281h7v5h-7zM258 281h6v5h-6zM283 281h25v5h-25zM146 286h6v5h-6zM196 286h6v5h-6zM258 286h6v5h-6zM301 286h7v5h-7zM102 291h7v6h-7zM295 291h6v6h-6zM357 291h13v6h-13zM74 297h4v5h-4zM196 297h6v5h-6zM252 297h6v5h-6zM295 297h6v5h-6zM152 302h6v5h-6zM189 302h7v5h-7zM258 302h6v5h-6zM295 302h6v5h-6zM357 302h13v5h-13zM183 307h6v5h-6zM245 307h7v5h-7zM264 307h6v5h-6zM295 307h6v5h-6zM84 312h6v5h-6zM183 312h6v5h-6zM258 312h6v5h-6zM301 312h7v5h-7zM183 317h6v5h-6zM233 317h6v5h-6zM345 317h6v5h-6zM78 322h6v6h-6zM183 322h6v6h-6zM74 328h10v5h-10zM177 328h6v5h-6zM351 328h6v5h-6zM177 333h12v5h-12zM351 333h6v5h-6zM84 338h6v5h-6zM189 338h13v5h-13zM351 338h6v5h-6zM196 343h6v5h-6zM74 348h10v5h-10zM196 348h6v5h-6zM208 348h13v5h-13zM227 348h6v5h-6zM214 353h7v5h-7zM314 374h12v5h-12zM202 379h6v5h-6zM239 379h6v5h-6zM102 395h7v5h-7zM314 395h6v5h-6zM74 400h4v5h-4zM171 400h6v5h-6zM183 400h6v5h-6zM308 400h6v5h-6zM96 405h6v5h-6zM171 405h6v5h-6zM301 405h7v5h-7zM419 405h7v5h-7zM438 405h6v5h-6zM90 410h6v5h-6zM419 410h7v5h-7z"/>
<path fill="#6501d4" d="M183 57h6v3h-6zM233 57h6v3h-6zM252 57h6v3h-6zM270 57h6v3h-6zM301 57h7v3h-7zM314 57h12v3h-12zM357 57h7v3h-7zM165 60h6v5h-6zM314 60h6v5h-6zM109 65h6v5h-6zM401 65h6v5h-6zM426 70h6v5h-6zM109 75h6v5h-6zM146 75h12v5h-12zM96 80h19v5h-19zM127 80h7v5h-7zM239 80h6v5h-6zM482 80h6v5h-6zM519 80h6v5h-6zM364 85h6v5h-6zM506 85h7v5h-7zM177 90h6v6h-6zM364 90h6v6h-6zM134 96h6v5h-6zM376 96h6v5h-6zM134 101h6v5h-6zM463 101h6v5h-6zM438 106h6v5h-6zM469 106h6v5h-6zM370 111h6v5h-6zM413 116h6v5h-6zM469 116h6v5h-6zM500 132h6v5h-6zM245 152h7v5h-7zM494 152h6v5h-6zM494 157h6v6h-6zM102 163h19v5h-19zM245 163h7v5h-7zM90 173h25v5h-25zM494 173h6v5h-6zM90 178h6v5h-6zM494 178h6v5h-6zM121 183h6v5h-6zM227 183h12v5h-12zM301 183h7v5h-7zM357 183h7v5h-7zM227 188h18v6h-18zM264 188h6v6h-6zM295 188h6v6h-6zM370 188h6v6h-6zM488 188h6v6h-6zM127 194h7v5h-7zM146 194h6v5h-6zM295 194h6v5h-6zM494 194h6v5h-6zM84 199h6v5h-6zM90 204h19v5h-19zM264 204h6v5h-6zM314 204h6v5h-6zM519 204h6v5h-6zM115 209h6v5h-6zM146 209h6v5h-6zM320 209h6v5h-6zM78 219h6v5h-6zM127 219h7v5h-7zM171 219h6v5h-6zM270 219h6v5h-6zM370 219h6v5h-6zM90 224h6v6h-6zM121 224h6v6h-6zM270 224h6v6h-6zM109 230h6v5h-6zM121 230h6v5h-6zM171 230h6v5h-6zM84 240h12v5h-12zM134 240h6v5h-6zM264 240h6v5h-6zM308 240h6v5h-6zM264 245h6v5h-6zM308 245h6v5h-6zM320 245h6v5h-6zM96 250h6v5h-6zM109 250h6v5h-6zM326 250h6v5h-6zM102 255h7v6h-7zM140 255h31v6h-31zM314 255h6v6h-6zM451 255h6v6h-6zM121 261h6v5h-6zM177 266h12v5h-12zM140 271h12v5h-12zM264 271h6v5h-6zM270 276h6v5h-6zM395 276h6v5h-6zM152 281h6v5h-6zM276 281h7v5h-7zM419 281h7v5h-7zM189 286h7v5h-7zM295 286h6v5h-6zM96 291h6v6h-6zM146 291h6v6h-6zM196 291h6v6h-6zM258 291h6v6h-6zM78 297h12v5h-12zM258 297h6v5h-6zM519 297h6v5h-6zM264 302h6v5h-6zM506 302h19v5h-19zM140 312h12v5h-12zM264 312h6v5h-6zM295 312h6v5h-6zM395 312h6v5h-6zM419 312h7v5h-7zM451 312h6v5h-6zM90 317h6v5h-6zM177 317h6v5h-6zM258 317h6v5h-6zM519 317h6v5h-6zM84 322h6v6h-6zM177 322h6v6h-6zM345 322h6v6h-6zM407 322h6v6h-6zM84 328h6v5h-6zM407 328h6v5h-6zM96 333h6v5h-6zM189 333h7v5h-7zM413 333h6v5h-6zM451 333h6v5h-6zM90 338h6v5h-6zM183 338h6v5h-6zM239 338h6v5h-6zM419 338h7v5h-7zM463 338h6v5h-6zM74 343h4v5h-4zM339 343h6v5h-6zM382 343h6v5h-6zM469 343h6v5h-6zM84 348h18v5h-18zM339 348h6v5h-6zM90 353h6v5h-6zM339 353h6v5h-6zM444 353h7v5h-7zM196 358h12v6h-12zM339 358h6v6h-6zM506 358h13v6h-13zM345 364h6v5h-6zM221 369h6v5h-6zM239 369h6v5h-6zM463 369h6v5h-6zM196 374h6v5h-6zM221 374h6v5h-6zM245 374h7v5h-7zM326 374h6v5h-6zM345 374h6v5h-6zM475 374h7v5h-7zM345 379h6v5h-6zM488 379h6v5h-6zM121 384h6v5h-6zM189 384h13v5h-13zM320 384h31v5h-31zM432 384h6v5h-6zM475 384h7v5h-7zM494 384h6v5h-6zM308 389h6v6h-6zM345 389h6v6h-6zM351 395h6v5h-6zM444 395h19v5h-19zM506 395h7v5h-7zM283 400h6v5h-6zM177 405h6v5h-6zM444 405h7v5h-7zM444 410h7v5h-7z"/>
<path fill="#6e02ec" d="M84 57h6v3h-6zM115 57h6v3h-6zM127 57h7v3h-7zM214 57h7v3h-7zM239 57h13v3h-13zM364 57h6v3h-6zM84 60h6v5h-6zM115 60h6v5h-6zM214 60h7v5h-7zM364 60h6v5h-6zM115 65h6v5h-6zM146 65h6v5h-6zM189 65h7v5h-7zM208 65h6v5h-6zM314 65h6v5h-6zM364 65h6v5h-6zM407 65h12v5h-12zM74 70h4v5h-4zM115 70h6v5h-6zM140 70h6v5h-6zM196 70h12v5h-12zM376 70h6v5h-6zM432 70h6v5h-6zM140 75h6v5h-6zM202 75h6v5h-6zM432 75h6v5h-6zM482 75h6v5h-6zM115 80h12v5h-12zM364 80h12v5h-12zM432 80h6v5h-6zM239 85h6v5h-6zM401 85h6v5h-6zM494 85h12v5h-12zM519 85h6v5h-6zM395 90h6v6h-6zM500 90h6v6h-6zM382 96h6v5h-6zM500 96h6v5h-6zM382 101h6v5h-6zM457 101h6v5h-6zM469 101h6v5h-6zM506 101h13v5h-13zM74 106h4v5h-4zM376 106h6v5h-6zM432 106h6v5h-6zM475 106h7v5h-7zM376 111h6v5h-6zM475 111h7v5h-7zM382 116h6v5h-6zM401 116h12v5h-12zM395 121h6v6h-6zM469 121h6v6h-6zM74 127h4v5h-4zM388 127h7v5h-7zM469 127h6v5h-6zM78 132h6v5h-6zM475 132h7v5h-7zM488 132h12v5h-12zM506 132h7v5h-7zM84 137h6v5h-6zM506 137h7v5h-7zM102 142h7v5h-7zM506 142h7v5h-7zM102 147h7v5h-7zM500 147h6v5h-6zM102 152h7v5h-7zM102 157h7v6h-7zM245 157h7v6h-7zM500 157h6v6h-6zM96 163h6v5h-6zM500 163h6v5h-6zM500 168h6v5h-6zM84 173h6v5h-6zM332 173h7v5h-7zM500 173h6v5h-6zM84 178h6v5h-6zM127 178h7v5h-7zM320 178h12v5h-12zM339 178h6v5h-6zM500 178h6v5h-6zM78 183h6v5h-6zM308 183h6v5h-6zM351 183h6v5h-6zM494 183h6v5h-6zM78 188h6v6h-6zM276 188h7v6h-7zM301 188h7v6h-7zM494 188h6v6h-6zM78 194h6v5h-6zM134 194h12v5h-12zM183 194h6v5h-6zM239 194h6v5h-6zM252 194h12v5h-12zM301 194h7v5h-7zM370 194h6v5h-6zM78 199h6v5h-6zM183 199h13v5h-13zM245 199h19v5h-19zM276 199h25v5h-25zM308 199h6v5h-6zM370 199h6v5h-6zM78 204h6v5h-6zM158 204h13v5h-13zM189 204h7v5h-7zM270 204h6v5h-6zM320 204h6v5h-6zM370 204h6v5h-6zM74 209h4v5h-4zM96 209h19v5h-19zM270 209h6v5h-6zM326 209h6v5h-6zM351 209h19v5h-19zM140 214h6v5h-6zM270 214h6v5h-6zM78 224h12v6h-12zM171 224h6v6h-6zM127 235h7v5h-7zM140 240h6v5h-6zM140 245h6v5h-6zM165 245h6v5h-6zM314 245h6v5h-6zM469 245h6v5h-6zM102 250h7v5h-7zM140 250h6v5h-6zM158 250h13v5h-13zM314 250h12v5h-12zM469 250h13v5h-13zM134 255h6v6h-6zM320 255h6v6h-6zM127 261h7v5h-7zM171 271h6v5h-6zM183 271h6v5h-6zM158 276h7v5h-7zM183 276h6v5h-6zM264 276h6v5h-6zM401 276h18v5h-18zM158 281h7v5h-7zM183 281h6v5h-6zM264 281h12v5h-12zM395 281h6v5h-6zM152 286h6v5h-6zM264 286h6v5h-6zM289 286h6v5h-6zM388 286h7v5h-7zM419 286h7v5h-7zM189 291h7v6h-7zM264 291h6v6h-6zM289 291h6v6h-6zM370 291h6v6h-6zM90 297h6v5h-6zM115 297h6v5h-6zM134 297h18v5h-18zM189 297h7v5h-7zM264 297h6v5h-6zM289 297h6v5h-6zM357 297h13v5h-13zM419 297h7v5h-7zM134 302h6v5h-6zM158 302h7v5h-7zM183 302h6v5h-6zM289 302h6v5h-6zM419 302h7v5h-7zM78 307h12v5h-12zM134 307h6v5h-6zM158 307h7v5h-7zM177 307h6v5h-6zM289 307h6v5h-6zM370 307h6v5h-6zM388 307h7v5h-7zM419 307h7v5h-7zM90 312h6v5h-6zM152 312h6v5h-6zM171 312h12v5h-12zM283 312h12v5h-12zM407 312h12v5h-12zM426 312h25v5h-25zM171 317h6v5h-6zM264 317h6v5h-6zM308 317h6v5h-6zM413 317h6v5h-6zM74 322h4v6h-4zM90 322h6v6h-6zM171 322h6v6h-6zM252 322h6v6h-6zM413 322h6v6h-6zM90 328h6v5h-6zM171 328h6v5h-6zM239 328h6v5h-6zM345 328h6v5h-6zM413 328h6v5h-6zM438 328h6v5h-6zM171 333h6v5h-6zM196 333h6v5h-6zM239 333h6v5h-6zM426 333h6v5h-6zM96 338h6v5h-6zM177 338h6v5h-6zM451 338h12v5h-12zM78 343h18v5h-18zM189 343h7v5h-7zM239 343h6v5h-6zM444 343h13v5h-13zM463 343h6v5h-6zM332 348h7v5h-7zM444 348h7v5h-7zM469 348h6v5h-6zM96 353h6v5h-6zM183 353h6v5h-6zM221 353h6v5h-6zM332 353h7v5h-7zM451 353h6v5h-6zM475 353h7v5h-7zM74 358h4v6h-4zM189 358h7v6h-7zM208 358h6v6h-6zM451 358h6v6h-6zM482 358h24v6h-24zM519 358h6v6h-6zM227 364h6v5h-6zM339 364h6v5h-6zM457 364h6v5h-6zM345 369h6v5h-6zM189 374h7v5h-7zM202 374h6v5h-6zM295 374h6v5h-6zM339 374h6v5h-6zM482 374h6v5h-6zM221 379h6v5h-6zM245 379h7v5h-7zM301 379h25v5h-25zM339 379h6v5h-6zM494 379h6v5h-6zM74 384h10v5h-10zM109 384h12v5h-12zM202 384h6v5h-6zM233 384h6v5h-6zM308 384h12v5h-12zM500 384h25v5h-25zM121 389h6v6h-6zM432 389h6v6h-6zM519 389h6v6h-6zM109 395h6v5h-6zM171 395h12v5h-12zM308 395h6v5h-6zM339 395h12v5h-12zM419 395h7v5h-7zM438 395h6v5h-6zM463 395h6v5h-6zM513 395h6v5h-6zM96 400h6v5h-6zM314 400h6v5h-6zM419 400h13v5h-13zM469 400h25v5h-25zM152 405h6v5h-6zM276 405h7v5h-7zM413 405h6v5h-6zM146 410h25v5h-25zM413 410h6v5h-6zM74 415h4v5h-4zM419 415h25v5h-25z"/>
<path fill="#7703fa" d="M382 65h6v5h-6zM419 65h13v5h-13zM494 70h31v5h-31zM475 80h7v5h-7zM488 85h6v5h-6zM494 90h6v6h-6zM388 96h7v5h-7zM469 96h6v5h-6zM451 101h6v5h-6zM475 101h7v5h-7zM500 101h6v5h-6zM426 106h6v5h-6zM419 111h7v5h-7zM395 116h6v5h-6zM388 121h7v6h-7zM78 137h6v5h-6zM90 137h12v5h-12zM506 147h7v5h-7zM96 152h6v5h-6zM500 152h6v5h-6zM96 157h6v6h-6zM84 168h6v5h-6zM140 178h6v5h-6zM332 178h7v5h-7zM345 183h6v5h-6zM500 183h6v5h-6zM127 188h7v6h-7zM146 188h6v6h-6zM245 194h7v5h-7zM308 194h6v5h-6zM500 194h6v5h-6zM264 199h6v5h-6zM301 199h7v5h-7zM314 199h6v5h-6zM370 214h6v5h-6zM134 235h6v5h-6zM165 235h6v5h-6zM158 240h13v5h-13zM146 245h6v5h-6zM158 245h7v5h-7zM146 250h6v5h-6zM177 271h6v5h-6zM165 276h6v5h-6zM158 286h7v5h-7zM183 286h6v5h-6zM152 291h6v6h-6zM376 291h6v6h-6zM419 291h7v6h-7zM121 297h6v5h-6zM152 297h6v5h-6zM74 307h4v5h-4zM90 307h6v5h-6zM165 307h12v5h-12zM283 307h6v5h-6zM376 307h12v5h-12zM395 307h6v5h-6zM134 312h6v5h-6zM158 312h13v5h-13zM276 312h7v5h-7zM401 312h6v5h-6zM301 317h7v5h-7zM314 317h18v5h-18zM339 317h6v5h-6zM419 317h7v5h-7zM96 328h6v5h-6zM432 328h6v5h-6zM444 328h7v5h-7zM102 333h7v5h-7zM345 338h6v5h-6zM96 343h6v5h-6zM332 343h7v5h-7zM189 348h7v5h-7zM463 348h6v5h-6zM227 353h6v5h-6zM469 353h6v5h-6zM78 358h6v6h-6zM183 358h6v6h-6zM214 358h7v6h-7zM332 358h7v6h-7zM475 358h7v6h-7zM221 364h6v5h-6zM233 364h6v5h-6zM196 369h6v5h-6zM245 369h7v5h-7zM308 369h24v5h-24zM339 369h6v5h-6zM469 369h19v5h-19zM252 374h6v5h-6zM488 374h6v5h-6zM183 379h6v5h-6zM295 379h6v5h-6zM326 379h6v5h-6zM500 379h19v5h-19zM84 384h6v5h-6zM127 384h7v5h-7zM183 384h6v5h-6zM227 384h6v5h-6zM239 384h6v5h-6zM301 384h7v5h-7zM301 389h7v6h-7zM301 395h7v5h-7zM426 395h12v5h-12zM276 400h7v5h-7zM320 400h12v5h-12zM382 400h19v5h-19zM413 400h6v5h-6zM432 400h12v5h-12zM494 400h6v5h-6zM146 405h6v5h-6zM308 405h6v5h-6zM78 415h6v5h-6zM413 415h6v5h-6zM444 415h7v5h-7z"/>
<path fill="#8004ff" d="M78 57h6v3h-6zM121 57h6v3h-6zM165 57h6v3h-6zM189 57h7v3h-7zM208 57h6v3h-6zM395 57h12v3h-12zM74 60h10v5h-10zM121 60h6v5h-6zM152 60h13v5h-13zM189 60h7v5h-7zM208 60h6v5h-6zM388 60h56v5h-56zM74 65h4v5h-4zM140 65h6v5h-6zM196 65h12v5h-12zM376 65h6v5h-6zM432 65h19v5h-19zM438 70h13v5h-13zM482 70h12v5h-12zM115 75h6v5h-6zM127 75h13v5h-13zM370 75h6v5h-6zM438 75h13v5h-13zM469 75h13v5h-13zM438 80h13v5h-13zM469 80h6v5h-6zM407 85h6v5h-6zM419 85h25v5h-25zM469 85h19v5h-19zM401 90h6v6h-6zM426 90h18v6h-18zM469 90h25v6h-25zM395 96h6v5h-6zM426 96h12v5h-12zM457 96h12v5h-12zM475 96h25v5h-25zM426 101h6v5h-6zM438 101h13v5h-13zM482 101h18v5h-18zM519 101h6v5h-6zM382 106h6v5h-6zM419 106h7v5h-7zM482 106h6v5h-6zM494 106h31v5h-31zM74 111h4v5h-4zM382 111h13v5h-13zM407 111h12v5h-12zM482 111h6v5h-6zM500 111h13v5h-13zM388 116h7v5h-7zM475 116h7v5h-7zM500 116h13v5h-13zM74 121h4v6h-4zM500 121h19v6h-19zM488 127h37v5h-37zM74 132h4v5h-4zM482 132h6v5h-6zM513 132h12v5h-12zM74 137h4v5h-4zM513 137h12v5h-12zM78 142h18v5h-18zM513 142h12v5h-12zM84 147h18v5h-18zM513 147h6v5h-6zM90 152h6v5h-6zM506 152h13v5h-13zM84 157h12v6h-12zM109 157h6v6h-6zM506 157h13v6h-13zM78 163h18v5h-18zM506 163h13v5h-13zM78 168h6v5h-6zM109 168h6v5h-6zM506 168h7v5h-7zM78 173h6v5h-6zM506 173h7v5h-7zM78 178h6v5h-6zM134 178h6v5h-6zM74 183h4v5h-4zM127 183h7v5h-7zM146 183h6v5h-6zM314 183h31v5h-31zM74 188h4v6h-4zM134 188h12v6h-12zM270 188h6v6h-6zM308 188h6v6h-6zM345 188h19v6h-19zM500 188h6v6h-6zM74 194h4v5h-4zM314 194h12v5h-12zM339 194h25v5h-25zM506 194h13v5h-13zM74 199h4v5h-4zM270 199h6v5h-6zM320 199h12v5h-12zM345 199h25v5h-25zM513 199h12v5h-12zM74 204h4v5h-4zM326 204h6v5h-6zM351 204h19v5h-19zM152 209h19v5h-19zM332 209h19v5h-19zM370 209h6v5h-6zM165 214h6v5h-6zM134 219h12v5h-12zM165 219h6v5h-6zM74 224h4v6h-4zM127 224h19v6h-19zM165 224h6v6h-6zM127 230h19v5h-19zM158 230h13v5h-13zM140 235h25v5h-25zM146 240h12v5h-12zM152 245h6v5h-6zM152 250h6v5h-6zM177 276h6v5h-6zM165 281h18v5h-18zM401 281h6v5h-6zM165 286h18v5h-18zM270 286h19v5h-19zM401 286h6v5h-6zM413 286h6v5h-6zM158 291h13v6h-13zM177 291h12v6h-12zM382 291h19v6h-19zM413 291h6v6h-6zM96 297h19v5h-19zM127 297h7v5h-7zM158 297h13v5h-13zM177 297h12v5h-12zM270 297h6v5h-6zM283 297h6v5h-6zM370 297h37v5h-37zM413 297h6v5h-6zM74 302h16v5h-16zM165 302h18v5h-18zM270 302h6v5h-6zM283 302h6v5h-6zM370 302h37v5h-37zM413 302h6v5h-6zM127 307h7v5h-7zM270 307h13v5h-13zM401 307h6v5h-6zM413 307h6v5h-6zM96 312h6v5h-6zM127 312h7v5h-7zM270 312h6v5h-6zM96 317h6v5h-6zM134 317h18v5h-18zM158 317h13v5h-13zM276 317h25v5h-25zM332 317h7v5h-7zM426 317h18v5h-18zM451 317h6v5h-6zM96 322h19v6h-19zM158 322h13v6h-13zM258 322h12v6h-12zM289 322h25v6h-25zM332 322h13v6h-13zM426 322h31v6h-31zM102 328h13v5h-13zM158 328h13v5h-13zM245 328h13v5h-13zM332 328h13v5h-13zM419 328h13v5h-13zM451 328h6v5h-6zM109 333h6v5h-6zM158 333h13v5h-13zM332 333h13v5h-13zM419 333h7v5h-7zM102 338h19v5h-19zM158 338h19v5h-19zM245 338h7v5h-7zM332 338h13v5h-13zM102 343h13v5h-13zM158 343h31v5h-31zM245 343h7v5h-7zM326 343h6v5h-6zM457 343h6v5h-6zM102 348h13v5h-13zM158 348h31v5h-31zM233 348h12v5h-12zM326 348h6v5h-6zM451 348h12v5h-12zM102 353h7v5h-7zM165 353h18v5h-18zM233 353h19v5h-19zM326 353h6v5h-6zM463 353h6v5h-6zM84 358h25v6h-25zM165 358h18v6h-18zM221 358h37v6h-37zM469 358h6v6h-6zM74 364h4v5h-4zM171 364h37v5h-37zM214 364h7v5h-7zM239 364h25v5h-25zM332 364h7v5h-7zM463 364h31v5h-31zM500 364h25v5h-25zM74 369h4v5h-4zM177 369h19v5h-19zM202 369h6v5h-6zM214 369h7v5h-7zM252 369h18v5h-18zM295 369h13v5h-13zM332 369h7v5h-7zM488 369h37v5h-37zM74 374h10v5h-10zM183 374h6v5h-6zM208 374h13v5h-13zM258 374h12v5h-12zM283 374h12v5h-12zM332 374h7v5h-7zM494 374h6v5h-6zM506 374h19v5h-19zM74 379h16v5h-16zM109 379h43v5h-43zM177 379h6v5h-6zM208 379h13v5h-13zM252 379h18v5h-18zM276 379h19v5h-19zM332 379h7v5h-7zM519 379h6v5h-6zM90 384h19v5h-19zM134 384h18v5h-18zM177 384h6v5h-6zM208 384h19v5h-19zM245 384h7v5h-7zM258 384h43v5h-43zM127 389h25v6h-25zM171 389h31v6h-31zM258 389h43v6h-43zM115 395h37v5h-37zM158 395h13v5h-13zM183 395h19v5h-19zM258 395h43v5h-43zM519 395h6v5h-6zM102 400h7v5h-7zM127 400h44v5h-44zM189 400h13v5h-13zM258 400h18v5h-18zM332 400h13v5h-13zM370 400h12v5h-12zM401 400h12v5h-12zM444 400h7v5h-7zM500 400h13v5h-13zM134 405h12v5h-12zM183 405h13v5h-13zM258 405h18v5h-18zM314 405h12v5h-12zM407 405h6v5h-6zM451 405h6v5h-6zM469 405h25v5h-25zM96 410h6v5h-6zM134 410h12v5h-12zM171 410h18v5h-18zM258 410h43v5h-43zM407 410h6v5h-6zM451 410h6v5h-6zM84 415h12v5h-12zM134 415h49v5h-49zM258 415h25v5h-25zM407 415h6v5h-6zM451 415h6v5h-6z"/>
<path fill="#8f08ec" d="M158 57h7v3h-7zM388 57h7v3h-7zM407 57h25v3h-25zM146 60h6v5h-6zM202 60h6v5h-6zM382 60h6v5h-6zM444 60h7v5h-7zM121 65h6v5h-6zM451 65h6v5h-6zM494 65h31v5h-31zM451 70h6v5h-6zM475 70h7v5h-7zM121 75h6v5h-6zM364 75h6v5h-6zM413 85h6v5h-6zM407 90h6v6h-6zM419 90h7v6h-7zM451 96h6v5h-6zM388 101h7v5h-7zM401 101h12v5h-12zM432 101h6v5h-6zM395 106h12v5h-12zM494 121h6v6h-6zM482 127h6v5h-6zM74 142h4v5h-4zM96 142h6v5h-6zM74 147h10v5h-10zM519 147h6v5h-6zM78 152h12v5h-12zM519 152h6v5h-6zM78 157h6v6h-6zM74 163h4v5h-4zM519 163h6v5h-6zM513 168h6v5h-6zM74 173h4v5h-4zM506 178h7v5h-7zM339 188h6v6h-6zM506 188h19v6h-19zM264 194h12v5h-12zM519 194h6v5h-6zM332 199h13v5h-13zM345 204h6v5h-6zM146 214h12v5h-12zM158 224h7v6h-7zM146 230h6v5h-6zM171 276h6v5h-6zM407 281h12v5h-12zM395 286h6v5h-6zM171 291h6v6h-6zM270 291h13v6h-13zM401 291h6v6h-6zM171 297h6v5h-6zM90 302h6v5h-6zM115 302h12v5h-12zM407 302h6v5h-6zM407 307h6v5h-6zM102 317h7v5h-7zM127 317h7v5h-7zM152 317h6v5h-6zM270 317h6v5h-6zM444 317h7v5h-7zM270 322h19v6h-19zM314 322h18v6h-18zM419 322h7v6h-7zM115 328h6v5h-6zM245 333h7v5h-7zM326 338h6v5h-6zM115 343h6v5h-6zM152 343h6v5h-6zM252 343h6v5h-6zM115 348h6v5h-6zM245 348h7v5h-7zM109 353h6v5h-6zM252 353h12v5h-12zM258 358h6v6h-6zM457 358h6v6h-6zM78 364h24v5h-24zM264 364h6v5h-6zM308 364h24v5h-24zM494 364h6v5h-6zM78 369h24v5h-24zM289 369h6v5h-6zM84 374h18v5h-18zM177 374h6v5h-6zM276 374h7v5h-7zM500 374h6v5h-6zM96 379h13v5h-13zM270 379h6v5h-6zM252 384h6v5h-6zM214 389h25v6h-25zM252 389h6v6h-6zM152 395h6v5h-6zM202 395h6v5h-6zM252 395h6v5h-6zM109 400h6v5h-6zM202 400h6v5h-6zM252 400h6v5h-6zM345 400h12v5h-12zM364 400h6v5h-6zM451 400h6v5h-6zM463 400h6v5h-6zM513 400h6v5h-6zM102 405h7v5h-7zM196 405h6v5h-6zM252 405h6v5h-6zM326 405h13v5h-13zM376 405h31v5h-31zM494 405h6v5h-6zM189 410h7v5h-7zM252 410h6v5h-6zM301 410h7v5h-7zM457 410h6v5h-6zM96 415h6v5h-6zM127 415h7v5h-7zM183 415h6v5h-6zM252 415h6v5h-6zM283 415h6v5h-6z"/>
<path fill="#9c0db4" d="M74 57h4v3h-4zM146 57h12v3h-12zM202 57h6v3h-6zM376 57h12v3h-12zM432 57h19v3h-19zM140 60h6v5h-6zM196 60h6v5h-6zM376 60h6v5h-6zM370 65h6v5h-6zM482 65h12v5h-12zM127 70h13v5h-13zM370 70h6v5h-6zM469 70h6v5h-6zM463 75h6v5h-6zM413 90h6v6h-6zM457 90h12v6h-12zM401 96h6v5h-6zM419 96h7v5h-7zM438 96h13v5h-13zM413 101h13v5h-13zM413 106h6v5h-6zM488 106h6v5h-6zM401 111h6v5h-6zM513 111h6v5h-6zM74 116h4v5h-4zM494 116h6v5h-6zM513 116h6v5h-6zM488 121h6v6h-6zM519 121h6v6h-6zM475 127h7v5h-7zM74 152h4v5h-4zM74 157h4v6h-4zM519 157h6v6h-6zM74 168h4v5h-4zM519 168h6v5h-6zM513 173h12v5h-12zM74 178h4v5h-4zM134 183h12v5h-12zM513 183h12v5h-12zM314 188h6v6h-6zM332 188h7v6h-7zM364 188h6v6h-6zM332 194h7v5h-7zM332 204h7v5h-7zM158 214h7v5h-7zM283 291h6v6h-6zM407 291h6v6h-6zM407 297h6v5h-6zM96 302h19v5h-19zM127 302h7v5h-7zM115 307h6v5h-6zM134 322h18v6h-18zM258 328h6v5h-6zM289 328h25v5h-25zM115 333h6v5h-6zM152 333h6v5h-6zM283 333h12v5h-12zM345 333h6v5h-6zM152 338h6v5h-6zM115 353h6v5h-6zM109 358h6v6h-6zM264 358h6v6h-6zM463 358h6v6h-6zM102 364h7v5h-7zM208 364h6v5h-6zM295 364h13v5h-13zM283 369h6v5h-6zM115 374h37v5h-37zM270 374h6v5h-6zM90 379h6v5h-6zM171 384h6v5h-6zM158 389h13v6h-13zM202 389h12v6h-12zM239 389h6v6h-6zM214 395h7v5h-7zM115 400h6v5h-6zM208 400h6v5h-6zM357 400h7v5h-7zM457 400h6v5h-6zM519 400h6v5h-6zM202 405h6v5h-6zM245 405h7v5h-7zM339 405h12v5h-12zM364 405h12v5h-12zM463 405h6v5h-6zM500 405h6v5h-6zM102 410h7v5h-7zM127 410h7v5h-7zM245 410h7v5h-7zM308 410h12v5h-12zM382 410h25v5h-25zM463 410h25v5h-25zM102 415h7v5h-7zM189 415h7v5h-7zM245 415h7v5h-7zM289 415h6v5h-6z"/>
<path fill="#a91562" d="M140 57h6v3h-6zM196 57h6v3h-6zM134 60h6v5h-6zM451 60h6v5h-6zM500 60h25v5h-25zM121 70h6v5h-6zM364 70h6v5h-6zM451 90h6v6h-6zM407 96h6v5h-6zM395 101h6v5h-6zM388 106h7v5h-7zM407 106h6v5h-6zM395 111h6v5h-6zM494 111h6v5h-6zM519 111h6v5h-6zM475 121h7v6h-7zM506 183h7v5h-7zM320 188h12v6h-12zM339 204h6v5h-6zM146 219h12v5h-12zM152 230h6v5h-6zM407 286h6v5h-6zM276 297h7v5h-7zM96 307h13v5h-13zM121 307h6v5h-6zM121 317h6v5h-6zM121 322h13v6h-13zM152 322h6v6h-6zM127 328h13v5h-13zM264 328h6v5h-6zM276 328h7v5h-7zM314 328h12v5h-12zM252 333h6v5h-6zM121 338h6v5h-6zM289 338h19v5h-19zM121 343h6v5h-6zM301 343h13v5h-13zM121 348h6v5h-6zM152 348h6v5h-6zM252 348h6v5h-6zM320 348h6v5h-6zM158 353h7v5h-7zM457 353h6v5h-6zM308 358h24v6h-24zM134 364h18v5h-18zM289 364h6v5h-6zM134 369h18v5h-18zM276 369h7v5h-7zM102 374h13v5h-13zM245 389h7v6h-7zM208 395h6v5h-6zM221 395h6v5h-6zM245 395h7v5h-7zM121 400h6v5h-6zM109 405h6v5h-6zM208 405h6v5h-6zM351 405h13v5h-13zM506 405h13v5h-13zM109 410h6v5h-6zM196 410h6v5h-6zM320 410h12v5h-12zM357 410h25v5h-25zM488 410h12v5h-12zM295 415h6v5h-6zM457 415h6v5h-6z"/>
<path fill="#b42000" d="M451 57h6v3h-6zM494 57h31v3h-31zM370 60h6v5h-6zM488 60h12v5h-12zM134 65h6v5h-6zM475 65h7v5h-7zM463 70h6v5h-6zM413 96h6v5h-6zM488 111h6v5h-6zM482 116h6v5h-6zM519 116h6v5h-6zM482 121h6v6h-6zM364 194h6v5h-6zM109 307h6v5h-6zM140 328h6v5h-6zM270 328h6v5h-6zM283 328h6v5h-6zM326 328h6v5h-6zM258 333h6v5h-6zM295 333h6v5h-6zM276 338h13v5h-13zM295 343h6v5h-6zM314 343h6v5h-6zM127 348h25v5h-25zM258 348h6v5h-6zM301 348h7v5h-7zM127 353h25v5h-25zM127 358h25v6h-25zM158 358h7v6h-7zM301 358h7v6h-7zM283 364h6v5h-6zM121 369h13v5h-13zM208 369h6v5h-6zM152 389h6v6h-6zM227 395h6v5h-6zM245 400h7v5h-7zM115 405h6v5h-6zM127 405h7v5h-7zM457 405h6v5h-6zM519 405h6v5h-6zM351 410h6v5h-6zM500 410h6v5h-6zM196 415h6v5h-6zM301 415h19v5h-19zM357 415h13v5h-13zM463 415h19v5h-19z"/>
<path fill="#bf2d00" d="M370 57h6v3h-6zM457 57h12v3h-12zM475 57h19v3h-19zM475 60h13v5h-13zM127 65h7v5h-7zM463 65h12v5h-12zM451 85h18v5h-18zM444 90h7v6h-7zM488 116h6v5h-6zM513 178h12v5h-12zM326 194h6v5h-6zM158 219h7v5h-7zM146 224h12v6h-12zM102 312h25v5h-25zM146 328h6v5h-6zM127 333h13v5h-13zM264 333h19v5h-19zM301 333h31v5h-31zM252 338h6v5h-6zM127 343h13v5h-13zM276 343h19v5h-19zM320 343h6v5h-6zM276 348h25v5h-25zM270 353h6v5h-6zM301 353h25v5h-25zM270 358h6v6h-6zM289 358h12v6h-12zM121 364h13v5h-13zM270 364h13v5h-13zM102 369h19v5h-19zM270 369h6v5h-6zM171 379h6v5h-6zM152 384h6v5h-6zM233 395h12v5h-12zM214 400h7v5h-7zM121 405h6v5h-6zM115 410h12v5h-12zM202 410h12v5h-12zM332 410h19v5h-19zM506 410h19v5h-19zM202 415h6v5h-6zM320 415h12v5h-12zM345 415h12v5h-12zM370 415h37v5h-37zM482 415h24v5h-24z"/>
<path fill="#ca3e00" d="M469 57h6v3h-6zM463 60h12v5h-12zM451 80h18v5h-18zM444 85h7v5h-7zM276 302h7v5h-7zM109 317h12v5h-12zM121 328h6v5h-6zM152 328h6v5h-6zM121 333h6v5h-6zM140 333h12v5h-12zM258 338h12v5h-12zM308 338h18v5h-18zM258 343h6v5h-6zM308 348h12v5h-12zM289 353h12v5h-12zM121 358h6v6h-6zM152 358h6v6h-6zM276 358h13v6h-13zM109 364h12v5h-12zM171 374h6v5h-6zM152 379h6v5h-6zM158 384h13v5h-13zM221 400h24v5h-24zM109 415h18v5h-18zM208 415h6v5h-6zM332 415h13v5h-13zM506 415h13v5h-13z"/>
<path fill="#d35300" d="M134 57h6v3h-6zM127 60h7v5h-7zM457 60h6v5h-6zM451 75h12v5h-12zM115 322h6v6h-6zM127 338h25v5h-25zM270 338h6v5h-6zM264 343h6v5h-6zM152 353h6v5h-6zM276 353h13v5h-13zM115 358h6v6h-6zM165 374h6v5h-6zM158 379h13v5h-13zM214 405h31v5h-31zM239 410h6v5h-6zM519 415h6v5h-6z"/>
<path fill="#dd6c00" d="M457 70h6v5h-6zM140 343h12v5h-12zM270 343h6v5h-6zM264 348h6v5h-6zM121 353h6v5h-6zM171 369h6v5h-6zM152 374h13v5h-13zM214 410h19v5h-19zM214 415h19v5h-19zM239 415h6v5h-6z"/>
<path fill="#e68900" d="M270 348h6v5h-6zM158 369h13v5h-13zM233 410h6v5h-6zM233 415h6v5h-6z"/>
<path fill="#efab00" d="M457 65h6v5h-6zM264 353h6v5h-6zM158 364h13v5h-13zM152 369h6v5h-6z"/>
<path fill="#f7d200" d="M152 364h6v5h-6z"/>
</g>
<path fill="none" stroke="#40e8d8" stroke-width="1" shape-rendering="crispEdges" stroke-linejoin="round" d="M90.0 102.8 91.8 97.3 96.2 94.8 104.3 91.1 109.9 92.1 114.9 93.1 123.6 94.6 129.8 96.0 133.5 94.8 139.8 93.3 143.5 95.0 148.5 94.2 156.0 96.6 157.2 98.3 163.4 98.3 164.7 96.9 172.2 98.3 177.1 97.9 178.4 95.8 180.3 94.8 182.1 90.0 184.6 93.8 186.5 96.6 189.6 95.8 192.7 94.4 197.1 94.2 197.9 96.9 197.1 99.9 194.0 101.4 192.1 98.9 190.2 102.0 192.1 106.1 189.6 106.1 186.5 107.2 184.0 109.2 182.1 112.3 181.3 116.4 183.4 117.1 184.0 120.6 188.4 121.0 193.3 124.1 196.7 124.5 196.8 128.8 198.3 131.3 199.9 132.5 201.2 130.3 200.8 125.7 203.7 121.6 201.4 117.1 202.7 114.0 202.1 109.4 207.0 109.6 210.1 111.7 212.5 112.9 212.6 116.4 215.1 117.9 217.6 114.8 218.9 113.6 221.4 118.5 222.6 121.6 224.5 124.3 227.0 125.1 228.2 127.6 229.8 130.3 228.2 132.1 225.7 134.4 223.2 134.6 216.5 134.6 213.9 137.1 211.4 140.8 213.3 139.5 216.4 136.9 219.1 137.3 218.9 139.7 218.2 141.2 218.9 142.8 222.0 143.7 223.2 144.3 220.1 146.1 217.6 148.2 216.7 146.5 218.9 144.5 215.8 145.3 213.3 147.0 211.4 148.8 211.1 151.5 212.0 152.1 210.1 152.7 207.0 154.4 206.7 156.7 205.4 159.1 204.5 161.8 204.5 165.5 203.3 167.0 201.8 168.2 200.2 170.1 198.3 172.5 197.8 175.6 198.9 180.4 199.6 183.5 198.9 186.1 197.9 185.1 196.2 181.0 196.2 178.3 194.6 176.2 192.7 176.9 190.8 175.4 188.4 175.6 187.9 178.1 185.9 177.7 182.4 176.9 180.5 178.3 178.4 180.8 178.0 184.9 177.4 191.7 178.1 195.8 179.6 198.5 181.5 200.6 184.6 199.7 186.2 197.9 186.7 194.8 189.6 193.6 191.1 194.2 190.2 197.9 189.3 201.4 188.6 205.5 192.1 205.5 195.4 207.2 194.8 214.4 196.4 218.9 198.3 220.0 199.9 218.5 202.8 220.4 203.3 221.6 204.5 218.9 205.2 216.2 207.0 215.0 210.1 212.5 209.9 215.8 212.0 213.4 214.3 216.4 219.5 216.7 222.2 216.0 223.2 218.5 224.5 220.8 227.8 225.7 231.9 226.1 234.4 228.4 236.7 235.0 236.9 238.1 239.4 239.7 243.8 243.3 249.4 243.9 252.9 248.0 255.4 249.4 255.9 254.6 253.1 260.8 250.6 264.9 250.6 274.8 248.8 281.4 246.9 285.5 243.8 285.9 238.8 291.7 238.5 296.9 235.7 302.0 232.6 308.2 228.8 310.1 226.5 308.2 228.2 313.0 227.6 316.5 222.0 318.5 221.6 322.2 218.2 322.6 219.9 325.9 218.0 327.2 217.6 330.9 215.1 333.0 217.2 336.7 215.0 339.1 213.3 343.3 214.0 346.1 210.8 349.0 207.0 345.9 205.2 341.2 205.2 335.0 207.7 328.8 208.3 324.7 207.0 319.5 207.7 314.4 209.9 306.1 210.1 300.0 211.4 290.7 211.6 276.0 209.5 273.2 204.3 266.6 203.0 262.8 200.2 253.6 197.9 248.0 199.3 245.1 198.4 242.6 199.4 236.5 201.1 235.0 202.9 229.9 202.7 223.7 202.1 221.6 199.8 223.0 198.6 222.8 197.7 221.6 195.8 221.0 195.0 220.2 192.5 217.7 192.5 215.4 190.2 211.3 187.7 210.3 185.2 209.2 181.5 204.7 179.0 205.7 174.9 203.5 172.2 201.0 167.8 196.2 168.0 192.7 164.7 186.6 162.9 185.1 161.6 181.4 159.1 177.3 158.5 174.2 156.3 172.7 156.3 176.2 158.5 180.4 159.7 184.5 161.8 188.2 162.8 190.5 161.9 190.7 159.5 186.6 157.0 181.8 156.0 180.4 157.0 178.7 154.7 174.8 153.4 171.1 151.6 168.0 149.0 166.8 147.2 162.0 146.6 160.2 145.0 156.7 144.3 154.8 144.5 149.4 144.8 142.8 143.9 138.3 146.6 140.2 146.0 136.6 141.0 132.9 139.8 129.8 136.9 125.7 134.8 121.6 132.3 118.5 129.8 117.9 127.9 116.6 124.8 114.8 119.8 114.2 117.4 112.3 114.2 114.4 110.5 115.8 112.4 111.9 109.3 114.4 107.4 117.5 103.7 121.0 98.7 124.1 93.9 125.3 97.4 122.6 102.4 118.1 103.7 116.9 99.9 116.9 97.4 117.1 97.4 114.4 93.7 113.3 92.4 110.9 94.3 107.8 98.7 107.2 98.7 105.1 94.9 105.1 91.8 103.5 90.0 102.8M214.0 346.6 217.9 351.1 213.8 352.5 209.5 350.1 211.4 347.4 214.0 346.6M223.2 344.3 227.0 344.3 225.7 345.9 223.2 344.3M208.3 76.9 217.0 73.1 222.0 69.4 236.9 68.0 249.4 65.9 261.8 65.9 271.8 68.0 276.8 70.0 284.3 70.3 278.0 73.1 276.8 77.3 274.3 81.4 274.3 84.5 269.3 87.6 271.8 90.0 268.7 92.7 271.2 93.3 266.8 96.9 261.8 97.7 258.1 99.9 253.7 102.4 249.4 103.7 248.1 107.2 245.6 113.3 244.4 114.6 241.9 112.7 238.8 111.7 236.3 107.2 234.4 103.0 232.6 99.9 233.2 96.9 235.7 94.8 231.3 92.7 231.9 89.6 229.5 85.5 226.3 81.8 220.7 81.0 214.5 81.4 210.8 79.3 215.8 78.3 208.3 76.9M268.9 102.8 271.2 101.2 273.0 103.0 276.8 101.6 279.3 101.0 281.0 102.4 282.3 104.1 280.5 105.5 276.2 107.4 273.7 107.0 270.9 106.5 271.8 105.1 269.3 104.3 271.8 103.2 268.9 102.8M199.6 86.1 204.5 88.0 210.8 90.7 214.5 93.1 216.4 97.3 222.0 99.9 222.6 102.0 219.5 104.1 217.0 102.0 214.5 103.0 218.2 107.2 218.6 110.7 214.5 109.8 210.1 106.8 207.0 105.1 202.7 105.5 202.1 103.2 207.7 103.0 207.0 99.9 208.9 98.3 204.5 95.2 200.8 93.8 197.1 94.0 192.1 93.1 188.4 91.7 187.7 87.6 193.3 85.9 199.6 86.1M188.4 80.4 199.6 81.0 202.1 78.3 205.8 75.6 212.0 73.6 218.2 71.1 222.0 68.0 212.0 66.7 199.6 67.0 187.1 69.0 184.6 70.7 192.1 72.1 189.6 75.2 192.1 77.3 188.4 80.4M184.6 80.2 199.6 82.4 197.1 84.3 187.1 84.3 184.6 82.4 184.6 80.2M153.5 87.6 159.7 88.4 164.7 87.2 168.4 87.8 172.2 90.7 171.5 94.6 167.2 96.9 162.2 96.6 158.5 96.9 154.1 95.2 153.5 92.7 157.2 91.7 151.6 90.7 153.5 87.6M143.5 84.9 152.9 85.1 155.3 86.7 149.7 90.5 146.0 91.3 142.5 89.6 144.1 86.5 143.5 84.9M153.5 81.0 162.2 80.4 167.2 81.4 167.2 83.5 162.2 83.9 157.2 83.5 153.5 82.8 153.5 81.0 169.7 80.4 177.1 80.2 178.4 82.8 174.6 83.5 169.7 82.4 169.7 80.4M179.6 71.1 185.9 72.1 190.8 74.2 187.1 76.6 182.1 74.6 179.6 71.1M179.6 85.5 185.9 85.5 186.5 88.0 182.1 89.6 179.6 87.6 179.6 85.5 172.2 86.1 177.8 85.9 178.4 89.6 174.6 90.7 171.5 88.6 172.2 86.1M175.3 94.8 179.6 94.2 180.3 96.2 177.1 96.6 175.3 94.8M190.8 102.6 194.6 102.0 198.3 105.5 196.4 107.2 192.7 107.6 190.8 106.1 190.8 102.6M225.3 139.7 229.5 131.7 230.1 135.4 232.6 136.2 233.6 140.2 232.6 141.8 229.5 141.2 225.3 139.7M139.4 133.4 143.5 135.0 145.4 138.3 142.9 137.5 139.4 133.4M133.5 126.3 135.2 126.8 136.0 130.5 134.2 128.4 133.5 126.3M106.8 119.5 109.5 118.5 109.3 120.2 106.8 121.0 106.8 119.5M218.9 135.2 222.2 136.9 220.1 136.2 218.9 135.2M193.5 192.9 196.4 190.5 198.9 190.5 202.7 193.4 205.2 195.4 206.8 196.4 202.7 197.1 203.0 195.6 201.4 194.8 199.6 193.4 197.3 192.1 194.8 192.7 193.5 192.9M206.5 200.2 208.5 197.1 212.0 197.3 214.0 199.7 212.0 200.6 210.1 201.6 208.9 200.4 206.5 200.2M201.6 200.2 204.2 200.8 202.7 201.4 201.6 200.2M215.5 200.2 217.5 200.4 216.4 201.2 215.5 200.2M222.2 216.0 223.2 216.0 223.0 217.3 222.2 216.0M184.6 141.8 188.4 139.1 191.5 137.7 193.7 140.2 194.0 142.2 190.8 142.2 188.4 141.6 186.5 142.0 184.6 141.8M190.0 152.1 191.7 150.5 191.7 146.3 193.3 143.7 194.6 143.2 197.7 143.2 199.6 145.3 198.9 146.3 197.4 148.8 196.4 149.4 195.2 147.8 195.4 145.3 194.0 143.9 192.1 144.3 190.2 145.3 189.8 148.4 190.0 152.1M195.3 152.1 197.7 152.5 200.8 149.8 199.6 150.3 196.4 151.5 195.3 152.1 199.8 148.8 204.2 148.4 204.2 147.0 200.6 147.8 199.8 148.8M176.0 127.4 178.4 134.2 179.3 131.9 177.4 127.2 176.0 127.4M143.5 102.0 148.5 99.9 152.2 101.0 149.7 104.1 146.0 103.5 143.5 102.0 153.5 112.3 157.2 109.2 162.8 108.6 160.3 111.3 156.0 112.7 153.5 112.3M104.9 196.4 106.3 197.9 105.3 198.9 104.9 196.4M185.5 238.7 186.1 239.5 185.4 240.0 185.5 238.7M292.2 163.9 291.4 162.6 290.0 161.4 288.1 161.8 288.2 158.7 287.4 158.1 288.2 153.6 288.1 150.5 287.7 149.2 289.2 148.0 292.3 148.4 294.8 148.6 297.0 148.6 297.7 146.1 297.7 143.2 296.5 141.0 293.6 139.3 293.3 138.1 295.5 137.5 297.2 137.9 297.0 135.6 299.4 136.0 301.2 134.4 301.2 133.1 303.6 132.1 304.4 130.9 305.2 128.8 307.8 128.0 309.4 127.6 310.0 126.8 309.9 123.7 309.3 120.6 312.3 119.1 312.2 121.6 311.4 124.1 311.5 125.1 312.9 126.1 314.3 126.5 316.9 127.0 319.8 125.7 322.2 125.3 324.0 125.9 325.4 124.1 325.4 121.0 326.1 119.5 327.2 119.1 329.2 120.6 329.6 117.9 328.5 116.0 331.6 115.2 334.1 115.4 336.8 114.6 334.7 113.3 330.3 114.0 327.7 114.8 325.7 112.9 325.9 111.3 325.6 109.2 327.2 106.8 330.6 104.1 329.2 102.4 326.6 103.0 325.6 105.1 324.5 106.8 321.9 109.0 320.7 111.3 320.6 112.9 322.6 114.4 321.7 115.8 320.0 118.5 319.6 121.4 318.9 122.4 317.0 123.7 315.3 123.9 315.0 122.2 314.0 119.1 313.0 116.4 312.4 114.6 311.0 116.6 309.2 118.3 307.4 118.3 306.1 116.9 305.4 113.6 305.4 110.5 307.9 108.4 309.8 107.2 312.2 107.2 312.9 104.5 314.8 102.0 317.3 98.9 319.1 96.9 322.7 94.4 326.0 93.3 328.7 92.3 331.3 91.5 334.1 91.7 337.8 93.1 336.6 94.4 340.3 95.2 344.0 95.8 349.0 98.3 350.3 100.6 346.5 101.8 341.5 100.6 339.7 99.9 342.2 103.7 342.5 105.3 345.3 106.3 346.5 105.5 349.0 104.9 349.0 102.8 351.5 101.2 354.0 101.6 354.0 98.9 353.4 96.6 356.5 97.5 356.5 99.9 359.0 98.7 365.2 96.4 367.1 97.3 371.4 96.2 374.6 94.2 378.9 95.0 382.6 96.0 382.6 93.8 382.6 90.7 384.5 87.6 389.5 88.0 389.5 93.8 390.1 96.9 388.3 100.6 390.7 98.9 391.4 95.8 391.4 91.7 392.6 88.6 396.3 89.2 398.8 90.0 399.5 86.5 406.3 84.5 411.3 82.4 418.8 81.0 423.8 80.2 428.7 77.9 432.5 79.9 437.5 79.9 440.6 81.8 439.9 85.1 436.2 85.9 439.9 86.1 447.4 87.4 452.4 87.6 457.4 86.5 459.9 91.3 463.6 90.9 468.6 90.5 473.6 88.6 474.8 88.0 481.0 88.8 486.0 90.3 488.5 91.9 494.7 91.7 498.5 92.7 499.1 94.6 504.7 94.8 508.4 94.0 511.6 94.2 512.2 95.8 518.4 94.4 523.4 96.0M75.0 96.0 81.2 99.3 85.6 100.6 87.8 101.8 84.4 105.1 83.7 105.5 80.0 103.0 76.3 102.6 75.0 103.7M523.4 103.7 520.9 105.1 520.3 104.7 522.1 108.2 522.5 109.6 517.2 110.9 514.0 112.7 510.9 114.4 507.2 113.8 503.5 114.8 502.2 117.5 501.0 118.9 502.6 122.2 501.0 124.7 498.5 128.4 496.6 129.2 494.4 132.9 493.5 128.8 493.0 124.7 493.5 120.6 496.0 117.9 499.1 114.4 502.8 110.3 498.5 111.3 494.7 111.1 491.0 115.6 487.3 116.0 481.0 115.8 477.3 115.8 473.6 119.5 470.5 123.7 467.7 125.3 470.5 126.8 473.6 127.8 475.2 130.3 474.2 135.0 473.9 138.1 471.7 141.8 468.6 146.3 464.9 149.8 463.4 149.2 462.0 150.9 460.7 153.6 458.0 156.0 459.2 158.7 460.4 161.8 460.4 164.9 458.0 166.8 456.6 167.0 456.8 163.9 456.9 160.8 454.9 159.7 455.3 156.7 454.0 155.6 451.2 157.7 450.5 154.6 448.0 156.7 445.8 157.7 446.8 159.7 447.4 161.2 449.9 160.6 451.9 161.4 449.3 163.5 447.8 165.9 449.0 168.0 450.9 172.3 451.0 174.4 449.7 175.6 451.2 176.7 450.5 179.7 448.7 183.5 448.0 185.5 446.3 187.6 444.5 190.1 441.4 192.1 439.9 192.7 437.5 193.8 436.7 194.2 436.5 196.2 435.8 193.8 434.0 193.6 432.1 195.2 431.0 198.9 431.8 202.0 434.0 205.1 435.2 210.3 435.2 214.0 432.5 216.7 431.8 218.5 430.0 220.4 429.7 217.5 428.1 216.4 426.9 213.4 425.0 211.9 424.4 210.3 423.8 213.4 422.8 216.4 422.9 219.1 424.1 221.0 424.5 223.3 426.0 224.7 426.6 225.3 428.0 228.2 428.0 232.3 429.0 235.2 428.1 235.4 426.5 233.6 425.4 231.9 424.2 227.0 424.0 224.7 423.4 223.9 421.6 221.6 421.9 217.5 422.0 213.4 421.5 209.2 420.9 205.1 420.6 204.1 419.0 203.9 417.9 205.5 416.7 205.1 416.9 201.0 415.7 197.3 414.2 194.8 413.5 192.1 411.9 191.3 410.0 193.1 407.6 193.8 406.8 196.9 405.1 198.3 403.0 201.6 400.7 204.5 399.1 206.1 399.2 211.1 398.6 214.4 398.7 216.9 397.6 218.9 396.6 220.0 395.7 221.4 394.2 217.7 392.6 212.3 391.6 207.6 390.5 202.0 389.9 198.9 389.7 194.8 389.2 193.1 387.6 195.2 385.1 192.1 386.6 190.7 384.5 189.6 383.0 187.6 382.0 185.7 378.9 185.9 375.8 186.3 372.7 185.7 370.6 185.1 369.7 182.4 366.5 183.3 364.6 181.4 362.7 178.5 361.7 176.2 360.0 175.6 359.0 177.3 359.9 180.4 361.5 183.0 362.3 185.5 363.0 184.3 363.5 186.6 363.3 188.0 366.5 188.2 368.9 184.5 369.4 186.6 369.9 188.2 372.2 189.4 373.7 191.7 372.2 196.0 371.2 198.9 369.3 201.2 367.7 202.8 364.2 204.7 360.2 208.2 355.2 211.7 353.4 211.9 353.0 210.3 352.5 207.2 352.3 203.7 350.5 199.3 348.0 193.8 346.5 188.6 344.7 184.1 342.8 180.4 342.8 177.3 341.9 180.8 340.9 179.7 339.8 176.4 341.3 182.0 343.4 188.6 345.5 194.8 345.5 197.7 347.3 201.0 348.4 205.9 350.3 209.2 352.4 211.3 353.1 212.3 353.0 214.2 354.6 216.4 357.7 215.2 360.2 214.8 363.0 213.8 362.7 216.7 362.1 219.5 360.2 224.7 358.4 229.9 355.7 234.0 352.8 238.1 350.9 242.0 349.0 244.3 348.6 246.3 347.8 250.5 348.1 252.1 348.4 256.7 349.6 259.8 349.8 267.0 349.9 269.0 347.8 273.2 345.2 275.2 342.8 278.9 343.4 283.5 343.3 287.6 340.3 290.7 339.8 291.7 340.2 294.8 339.2 297.9 337.8 299.8 335.3 304.1 333.9 306.1 331.1 308.2 326.6 308.6 324.1 309.9 322.2 308.8 322.0 305.1 320.7 300.0 319.8 297.1 318.1 292.9 317.3 285.5 316.0 281.4 314.1 275.2 313.9 271.1 314.5 267.0 315.9 263.9 316.4 260.8 315.6 256.2 314.5 250.5 313.9 247.8 311.7 243.3 310.4 239.5 311.0 237.3 311.4 234.0 311.3 229.9 309.8 228.8 307.9 229.0 306.1 227.8 304.8 225.1 303.4 224.9 300.7 225.5 299.0 226.8 296.7 228.2 294.2 227.4 289.9 229.0 288.0 227.8 285.7 225.1 283.6 222.6 282.8 220.6 282.1 218.5 280.5 215.4 278.5 212.3 278.3 210.3 277.4 207.8 278.6 205.1 278.9 198.9 278.0 194.8 279.3 189.2 281.1 184.5 283.0 181.0 284.9 179.3 286.7 177.3 287.1 175.2 287.0 173.1 288.6 169.4 290.7 168.0 291.7 164.9 291.9 164.3 292.5 164.1 295.5 165.3 298.0 164.3 302.9 162.2 308.9 161.8 311.5 161.2 312.9 161.8 312.0 162.8 312.4 164.3 312.7 166.5 311.7 168.0 313.1 169.6 315.6 170.3 318.1 171.3 318.9 173.6 322.9 175.6 324.1 174.2 324.1 171.9 326.6 170.3 329.1 172.1 330.6 172.9 335.3 174.4 336.6 173.8 337.8 172.9 339.4 173.8 341.8 173.6 342.8 170.5 343.4 168.2 343.8 164.9 344.3 162.6 342.3 162.2 339.7 163.7 337.4 162.2 335.3 162.4 333.2 162.4 333.1 158.9 331.8 156.7 331.8 155.4 332.2 154.6 331.6 154.2 329.1 153.8 328.7 155.2 327.7 154.6 327.3 156.4 328.1 157.7 329.1 159.5 328.1 159.7 327.8 162.8 326.2 162.2 325.6 160.0 326.2 159.1 325.1 157.9 324.1 156.2 323.4 154.6 323.5 151.9 322.2 150.5 319.6 148.4 318.1 147.0 317.3 144.7 316.1 145.3 316.3 143.9 314.5 144.5 314.6 147.0 316.0 148.2 316.9 150.7 319.4 151.7 319.1 152.7 322.2 155.4 320.6 154.6 319.9 156.2 320.5 157.7 319.8 158.9 318.8 160.0 319.1 158.1 318.3 155.6 317.0 154.0 314.9 152.7 314.4 151.9 312.9 150.7 312.3 149.6 311.9 147.6 310.3 146.5 308.5 147.8 306.9 149.2 305.2 148.6 303.6 148.8 303.1 150.7 303.2 151.7 301.9 152.7 300.1 154.0 298.8 156.7 299.4 158.1 298.3 160.6 296.7 162.2 293.7 162.4 292.2 163.9M335.3 153.1 338.4 153.1 340.9 151.5 342.9 151.5 344.7 152.9 347.2 153.8 350.9 152.5 350.9 150.1 348.6 148.2 346.3 145.9 344.8 144.7 346.5 143.2 348.1 140.8 345.9 141.4 342.8 142.8 343.4 144.7 344.7 144.9 343.0 145.3 341.5 146.5 340.9 146.1 339.8 144.5 341.0 143.0 338.8 142.0 337.4 142.2 336.2 144.9 334.8 147.0 334.1 149.0 333.7 150.5 334.3 152.5 335.3 153.1M360.2 142.2 362.7 141.4 365.2 142.2 365.2 144.7 363.1 144.9 362.7 146.3 361.8 146.8 363.3 149.0 364.8 150.1 364.6 152.1 365.8 154.0 365.0 155.6 365.8 157.1 366.3 161.2 364.0 162.4 361.8 161.0 360.2 160.4 360.1 158.1 360.9 155.0 361.8 154.8 360.5 152.5 358.6 149.4 358.4 146.8 357.4 145.9 358.4 144.1 360.2 142.2M372.1 142.2 375.2 142.0 375.8 144.3 373.3 148.0 371.8 146.3 372.1 142.2M340.7 237.3 340.3 240.6 340.8 243.9M391.7 146.1 395.1 144.1 398.8 142.8M394.5 150.9 396.7 150.3M292.1 134.8 294.8 134.2 298.0 133.6 300.9 132.5 300.1 131.9 301.3 129.4 299.6 128.8 299.3 127.6 297.7 125.5 297.2 123.7 296.3 122.6 295.2 122.6 296.7 119.1 294.2 119.3 295.2 117.3 293.0 117.3 291.5 119.5 292.2 122.0 292.7 123.9 293.1 125.3 294.8 124.9 295.5 127.2 295.2 128.2 293.5 128.2 294.0 129.8 292.7 131.1 295.2 132.1 293.8 132.7 292.1 134.8M286.7 131.7 289.2 131.5 291.4 130.5 291.6 128.2 292.2 125.9 291.4 124.3 288.9 124.3 288.5 126.1 286.7 126.3 287.6 128.4 286.9 130.1 286.7 131.7M312.9 74.0 319.1 73.1 325.4 72.5 331.6 72.7 332.8 74.4 326.0 75.6 326.6 78.3 320.4 80.2 316.6 78.3 313.5 76.2 312.9 74.0M363.3 90.5 365.8 89.0 368.3 86.5 370.8 83.5 375.2 81.0 381.4 79.5 385.1 80.2 378.9 82.2 373.9 84.5 370.8 88.6 370.8 92.3 367.7 92.5 364.6 91.7 363.3 90.5M355.2 71.9 364.0 71.7 368.9 72.5 361.5 72.7 355.2 71.9M418.8 71.5 421.3 70.9 426.2 74.4 430.0 76.2 423.8 77.3 418.8 75.2 418.8 71.5M469.8 81.8 476.1 81.2 481.0 82.4 486.0 83.0 484.8 83.9 477.3 83.7 472.3 84.1 469.8 81.8 474.8 85.7 477.9 86.5 474.8 87.0 474.8 85.7M521.9 91.5 523.4 90.7M75.0 90.7 77.8 91.1 76.9 91.9 75.0 91.9M523.4 91.9 521.9 91.5M359.6 95.0 361.5 95.8 360.2 96.2 359.6 95.0M476.1 126.1 477.3 128.2 477.7 132.9 479.2 137.1 477.3 141.6 476.1 143.2 476.1 138.1 476.3 134.0 475.8 129.8 476.1 126.1M473.9 152.5 475.4 149.4 475.8 144.5 477.3 146.8 480.2 147.8 477.9 151.5 474.8 150.7 473.9 152.5M475.3 152.9 476.1 156.7 474.8 159.7 474.6 163.9 473.6 165.9 472.0 166.5 469.8 166.8 468.3 169.0 467.3 167.0 464.9 167.6 463.6 168.4 466.3 169.2 464.9 170.5 463.6 168.4 462.4 169.0 463.4 170.5 462.7 173.6 461.4 173.6 461.5 170.9 460.9 169.4 462.4 167.6 464.2 165.1 467.3 164.7 469.5 162.2 470.2 160.8 471.7 161.2 473.6 155.6 473.6 153.1 475.3 152.9M450.5 186.1 451.2 187.0 449.8 192.7 448.8 190.7 449.9 186.6 450.5 186.1M434.6 198.3 436.8 196.9 437.5 197.9 435.8 200.4 434.6 200.0 434.6 198.3M398.7 218.1 400.3 220.6 401.1 223.7 400.1 225.5 398.8 225.7 398.6 221.6 398.7 218.1M449.5 200.0 451.4 200.2 451.2 204.5 450.7 208.6 453.6 211.3 453.0 211.7 451.2 209.6 449.5 209.6 449.3 208.0 448.7 205.1 449.2 202.6 449.5 200.0M455.5 217.9 456.5 221.2 456.5 224.7 455.5 226.3 453.6 223.7 451.2 223.7 451.8 221.6 453.4 221.2 455.5 217.9M435.0 235.0 435.8 234.0 437.8 232.9 439.9 231.5 442.4 227.8 444.7 223.7 445.8 224.9 447.7 227.4 446.2 229.2 445.9 231.9 447.3 236.0 445.9 236.5 445.5 239.7 444.3 243.3 443.7 245.9 441.9 246.6 439.9 244.9 438.1 245.1 436.2 244.1 436.2 241.2 435.0 238.7 435.0 235.0M417.9 226.6 420.6 227.4 424.4 232.9 428.1 238.1 429.4 242.2 431.2 244.7 431.0 250.1 429.4 250.1 426.6 246.3 424.2 240.2 422.1 234.6 420.0 230.9 417.9 226.6M430.2 252.1 431.8 250.5 434.3 251.9 437.2 251.3 439.6 252.5 441.8 254.2 441.6 256.0 437.5 255.2 433.7 254.2 431.7 253.4 430.2 252.1M462.4 239.7 464.2 238.9 466.1 239.7 466.5 243.3 468.0 244.9 470.5 241.4 474.8 243.5 479.2 245.9 481.0 249.4 483.3 251.5 482.3 252.5 483.5 255.0 486.9 259.3 482.9 258.7 481.0 256.0 479.2 254.0 477.7 255.2 477.3 257.1 474.8 256.9 472.3 254.8 470.8 255.4 472.1 252.9 471.1 249.4 468.0 247.4 465.5 245.9 464.6 246.3 463.6 243.9 465.8 243.0 464.0 242.6 462.4 239.7M440.8 283.5 441.4 292.1 442.4 300.0 443.3 304.1 442.4 308.8 446.2 310.3 448.7 308.2 453.0 308.0 456.1 304.7 459.9 303.3 462.6 303.1 466.1 305.7 468.0 309.9 468.6 309.2 470.5 306.1 470.8 311.3 472.9 312.1 474.3 316.5 476.7 317.3 479.5 316.5 481.4 318.7 483.5 316.2 486.0 315.0 486.9 310.3 487.6 307.6 489.5 303.1 490.5 296.9 489.8 291.7 489.5 289.6 487.3 286.6 485.4 284.1 484.2 279.8 481.4 277.3 481.0 274.2 480.2 269.0 478.2 267.6 476.7 260.4 475.6 264.9 475.6 269.0 474.6 274.2 472.7 274.2 470.8 271.1 468.0 269.0 468.6 265.5 469.6 263.3 467.3 263.3 464.9 262.0 463.6 261.4 462.4 263.5 460.9 265.9 460.5 269.0 458.9 269.0 457.4 267.0 455.5 268.0 453.6 271.9 451.5 273.2 451.4 276.2 448.4 279.3 444.9 280.8 441.9 283.1 440.8 283.5M479.4 322.0 481.7 323.1 483.9 322.4 483.8 325.1 482.7 327.4 481.0 327.8 480.0 325.1 479.4 322.0M514.3 309.0 516.3 311.3 517.2 314.0 518.4 315.6 520.9 315.6 521.5 316.5 519.7 319.1 519.5 320.6 517.5 323.9 516.7 323.3 517.4 321.0 515.7 319.5 516.8 316.5 516.7 313.4 514.3 309.0M514.3 321.6 516.3 323.3 514.4 327.2 512.4 329.7 511.6 332.7 509.7 334.2 507.8 333.4 506.6 332.5 508.4 329.2 510.9 326.8 512.6 324.1 514.3 321.6M503.5 279.8 506.0 282.4 507.2 284.1 505.3 282.6 503.5 279.8M360.6 262.8 361.8 270.1 360.9 274.2 359.6 280.4 358.0 289.2 355.5 290.7 353.6 286.6 353.4 282.4 354.5 278.3 354.0 273.2 356.5 270.5 358.7 268.0 360.6 262.8M314.8 159.7 318.6 159.3 318.0 162.4 314.8 160.6 314.8 159.7 309.4 153.6 311.3 153.6 311.2 157.3 309.7 157.7 309.4 153.6 309.9 150.5 310.9 149.4 311.0 152.5 310.2 152.3 309.9 150.5 328.6 164.9 332.0 165.5 330.1 166.1 328.6 164.9 339.4 165.9 342.2 164.7 341.4 166.1 339.9 166.5 339.4 165.9M278.2 179.5 279.1 179.3 278.5 180.4 278.2 179.5 279.5 180.2 280.0 180.2 279.8 180.8 279.5 180.2M78.7 131.3 80.0 131.1 79.4 131.7 78.7 131.3 90.6 127.8 92.1 127.0 91.5 128.0 90.6 127.8 86.2 107.0 89.0 107.6 87.5 108.2 86.2 107.0 91.8 113.8 92.8 114.4 92.1 114.8 91.8 113.8M77.0 399.2 96.6 399.2 99.8 398.2 102.9 398.2M96.6 400.0 99.8 402.8M77.0 412.5 86.6 412.5 87.9 413.2 106.0 413.2 107.2 414.4 115.4 414.4 114.1 411.9 110.4 406.2 108.5 402.5 110.0 398.8 112.9 396.5 119.8 394.8 126.0 393.5 132.2 391.9 137.2 390.6 142.5 389.4 148.8 389.4 150.6 390.9 156.2 390.9 160.0 393.1 163.1 393.1 166.2 391.5 171.2 391.5 173.8 390.6 175.0 388.5 178.1 388.1 180.0 389.4 196.2 389.4 199.4 388.1 202.5 387.5 207.5 388.8 210.6 387.5 215.0 384.4 216.0 377.5 220.0 372.5 225.2 369.4 226.5 371.0 224.8 376.9 222.8 381.9 223.2 386.2 223.5 392.8M216.0 377.5 217.8 377.5 222.8 381.9 217.8 377.5 221.0 373.5 225.2 370.5M206.9 385.0 211.9 381.2 213.8 380.6 213.1 383.8 210.0 387.5 206.9 385.0M196.5 397.5 200.0 397.2 206.2 396.2 215.0 395.0 223.5 392.8 231.2 395.6 240.0 397.8 248.8 398.1 257.5 397.8 261.9 395.6 266.2 394.0 267.5 393.1 275.0 389.4 282.5 386.9 290.0 383.8 297.5 380.6 300.0 380.6 304.4 382.5 305.6 383.1 323.8 383.1 327.5 382.5 332.5 383.1 336.2 381.9 340.6 380.2 346.9 382.2 355.0 376.9 361.2 375.6 365.6 374.0 373.8 376.5 381.2 377.8 385.6 379.8 385.6 383.1 390.0 382.2 395.0 381.2 400.0 378.5 404.4 375.6 420.0 375.6 421.9 374.4 438.8 374.4 441.2 375.2 443.1 375.2 445.6 376.5 448.1 376.5 450.0 375.2 453.1 375.2 455.0 374.4 468.8 374.4 475.0 376.2 485.0 379.4 493.8 380.6 500.0 381.9 503.8 383.8 511.5 386.5 509.4 389.4 506.2 391.9 504.4 395.0 503.8 397.8 501.9 400.2 504.4 404.8 506.2 408.1 510.0 409.4 515.0 409.8 517.5 410.6M503.8 398.5 508.1 397.5 513.8 397.5 517.5 398.5 523.1 399.4M196.5 397.5 202.5 401.2 208.8 404.8 217.5 406.2 227.5 407.5 237.5 407.2 246.2 405.2 255.0 403.8 258.8 402.5 257.5 399.4 257.5 397.8M220.0 403.1 227.5 401.9 233.8 400.0 240.0 398.5 243.8 400.6 245.0 402.5 237.5 403.5 227.5 403.8 220.0 403.1M260.0 397.8 270.0 392.8 278.8 388.1 290.0 385.0 296.2 386.5 300.0 385.6 304.4 383.8M323.8 383.1 327.5 384.4 331.9 384.4 333.1 383.1M385.6 379.8 388.0 381.0 385.6 383.1"/>
<g shape-rendering="crispEdges"><rect x="535" y="416.17" width="23" height="3.13" fill="#100006"/><rect x="535" y="413.34" width="23" height="3.13" fill="#1c0013"/><rect x="535" y="410.52" width="23" height="3.13" fill="#24001f"/><rect x="535" y="407.69" width="23" height="3.13" fill="#2a002c"/><rect x="535" y="404.86" width="23" height="3.13" fill="#300038"/><rect x="535" y="402.03" width="23" height="3.13" fill="#350044"/><rect x="535" y="399.20" width="23" height="3.13" fill="#390050"/><rect x="535" y="396.38" width="23" height="3.13" fill="#3e005c"/><rect x="535" y="393.55" width="23" height="3.13" fill="#420067"/><rect x="535" y="390.72" width="23" height="3.13" fill="#450073"/><rect x="535" y="387.89" width="23" height="3.13" fill="#49007e"/><rect x="535" y="385.06" width="23" height="3.13" fill="#4c0088"/><rect x="535" y="382.23" width="23" height="3.13" fill="#500093"/><rect x="535" y="379.41" width="23" height="3.13" fill="#53009d"/><rect x="535" y="376.58" width="23" height="3.13" fill="#5600a7"/><rect x="535" y="373.75" width="23" height="3.13" fill="#5900b0"/><rect x="535" y="370.92" width="23" height="3.13" fill="#5c01b9"/><rect x="535" y="368.09" width="23" height="3.13" fill="#5e01c1"/><rect x="535" y="365.27" width="23" height="3.13" fill="#6101c9"/><rect x="535" y="362.44" width="23" height="3.13" fill="#6401d0"/><rect x="535" y="359.61" width="23" height="3.13" fill="#6601d7"/><rect x="535" y="356.78" width="23" height="3.13" fill="#6901de"/><rect x="535" y="353.95" width="23" height="3.13" fill="#6b01e4"/><rect x="535" y="351.12" width="23" height="3.13" fill="#6d02e9"/><rect x="535" y="348.30" width="23" height="3.13" fill="#7002ee"/><rect x="535" y="345.47" width="23" height="3.13" fill="#7202f2"/><rect x="535" y="342.64" width="23" height="3.13" fill="#7402f6"/><rect x="535" y="339.81" width="23" height="3.13" fill="#7603f9"/><rect x="535" y="336.98" width="23" height="3.13" fill="#7803fb"/><rect x="535" y="334.16" width="23" height="3.13" fill="#7a03fd"/><rect x="535" y="331.33" width="23" height="3.13" fill="#7c03fe"/><rect x="535" y="328.50" width="23" height="3.13" fill="#7e04ff"/><rect x="535" y="325.67" width="23" height="3.13" fill="#8004ff"/><rect x="535" y="322.84" width="23" height="3.13" fill="#8205fe"/><rect x="535" y="320.02" width="23" height="3.13" fill="#8405fd"/><rect x="535" y="317.19" width="23" height="3.13" fill="#8605fb"/><rect x="535" y="314.36" width="23" height="3.13" fill="#8806f9"/><rect x="535" y="311.53" width="23" height="3.13" fill="#8a06f6"/><rect x="535" y="308.70" width="23" height="3.13" fill="#8c07f2"/><rect x="535" y="305.88" width="23" height="3.13" fill="#8e07ee"/><rect x="535" y="303.05" width="23" height="3.13" fill="#8f08e9"/><rect x="535" y="300.22" width="23" height="3.13" fill="#9109e4"/><rect x="535" y="297.39" width="23" height="3.13" fill="#9309de"/><rect x="535" y="294.56" width="23" height="3.13" fill="#950ad7"/><rect x="535" y="291.73" width="23" height="3.13" fill="#960bd0"/><rect x="535" y="288.91" width="23" height="3.13" fill="#980bc9"/><rect x="535" y="286.08" width="23" height="3.13" fill="#9a0cc1"/><rect x="535" y="283.25" width="23" height="3.13" fill="#9b0db9"/><rect x="535" y="280.42" width="23" height="3.13" fill="#9d0eb0"/><rect x="535" y="277.59" width="23" height="3.13" fill="#9f0fa7"/><rect x="535" y="274.77" width="23" height="3.13" fill="#a0109d"/><rect x="535" y="271.94" width="23" height="3.13" fill="#a21193"/><rect x="535" y="269.11" width="23" height="3.13" fill="#a31288"/><rect x="535" y="266.28" width="23" height="3.13" fill="#a5137e"/><rect x="535" y="263.45" width="23" height="3.13" fill="#a61473"/><rect x="535" y="260.62" width="23" height="3.13" fill="#a81567"/><rect x="535" y="257.80" width="23" height="3.13" fill="#a9165c"/><rect x="535" y="254.97" width="23" height="3.13" fill="#ab1750"/><rect x="535" y="252.14" width="23" height="3.13" fill="#ac1844"/><rect x="535" y="249.31" width="23" height="3.13" fill="#ae1a38"/><rect x="535" y="246.48" width="23" height="3.13" fill="#af1b2c"/><rect x="535" y="243.66" width="23" height="3.13" fill="#b11c1f"/><rect x="535" y="240.83" width="23" height="3.13" fill="#b21e13"/><rect x="535" y="238.00" width="23" height="3.13" fill="#b41f06"/><rect x="535" y="235.17" width="23" height="3.13" fill="#b52100"/><rect x="535" y="232.34" width="23" height="3.13" fill="#b62200"/><rect x="535" y="229.52" width="23" height="3.13" fill="#b82400"/><rect x="535" y="226.69" width="23" height="3.13" fill="#b92500"/><rect x="535" y="223.86" width="23" height="3.13" fill="#bb2700"/><rect x="535" y="221.03" width="23" height="3.13" fill="#bc2900"/><rect x="535" y="218.20" width="23" height="3.13" fill="#bd2b00"/><rect x="535" y="215.38" width="23" height="3.13" fill="#bf2c00"/><rect x="535" y="212.55" width="23" height="3.13" fill="#c02e00"/><rect x="535" y="209.72" width="23" height="3.13" fill="#c13000"/><rect x="535" y="206.89" width="23" height="3.13" fill="#c33200"/><rect x="535" y="204.06" width="23" height="3.13" fill="#c43400"/><rect x="535" y="201.23" width="23" height="3.13" fill="#c53600"/><rect x="535" y="198.41" width="23" height="3.13" fill="#c63900"/><rect x="535" y="195.58" width="23" height="3.13" fill="#c83b00"/><rect x="535" y="192.75" width="23" height="3.13" fill="#c93d00"/><rect x="535" y="189.92" width="23" height="3.13" fill="#ca3f00"/><rect x="535" y="187.09" width="23" height="3.13" fill="#cb4200"/><rect x="535" y="184.27" width="23" height="3.13" fill="#cd4400"/><rect x="535" y="181.44" width="23" height="3.13" fill="#ce4700"/><rect x="535" y="178.61" width="23" height="3.13" fill="#cf4900"/><rect x="535" y="175.78" width="23" height="3.13" fill="#d04c00"/><rect x="535" y="172.95" width="23" height="3.13" fill="#d24f00"/><rect x="535" y="170.12" width="23" height="3.13" fill="#d35100"/><rect x="535" y="167.30" width="23" height="3.13" fill="#d45400"/><rect x="535" y="164.47" width="23" height="3.13" fill="#d55700"/><rect x="535" y="161.64" width="23" height="3.13" fill="#d65a00"/><rect x="535" y="158.81" width="23" height="3.13" fill="#d85d00"/><rect x="535" y="155.98" width="23" height="3.13" fill="#d96000"/><rect x="535" y="153.16" width="23" height="3.13" fill="#da6300"/><rect x="535" y="150.33" width="23" height="3.13" fill="#db6700"/><rect x="535" y="147.50" width="23" height="3.13" fill="#dc6a00"/><rect x="535" y="144.67" width="23" height="3.13" fill="#dd6d00"/><rect x="535" y="141.84" width="23" height="3.13" fill="#df7100"/><rect x="535" y="139.02" width="23" height="3.13" fill="#e07400"/><rect x="535" y="136.19" width="23" height="3.13" fill="#e17800"/><rect x="535" y="133.36" width="23" height="3.13" fill="#e27b00"/><rect x="535" y="130.53" width="23" height="3.13" fill="#e37f00"/><rect x="535" y="127.70" width="23" height="3.13" fill="#e48300"/><rect x="535" y="124.88" width="23" height="3.13" fill="#e58700"/><rect x="535" y="122.05" width="23" height="3.13" fill="#e68b00"/><rect x="535" y="119.22" width="23" height="3.13" fill="#e88f00"/><rect x="535" y="116.39" width="23" height="3.13" fill="#e99300"/><rect x="535" y="113.56" width="23" height="3.13" fill="#ea9700"/><rect x="535" y="110.73" width="23" height="3.13" fill="#eb9b00"/><rect x="535" y="107.91" width="23" height="3.13" fill="#eca000"/><rect x="535" y="105.08" width="23" height="3.13" fill="#eda400"/><rect x="535" y="102.25" width="23" height="3.13" fill="#eea900"/><rect x="535" y="99.42" width="23" height="3.13" fill="#efad00"/><rect x="535" y="96.59" width="23" height="3.13" fill="#f0b200"/><rect x="535" y="93.77" width="23" height="3.13" fill="#f1b700"/><rect x="535" y="90.94" width="23" height="3.13" fill="#f2bb00"/><rect x="535" y="88.11" width="23" height="3.13" fill="#f3c000"/><rect x="535" y="85.28" width="23" height="3.13" fill="#f4c500"/><rect x="535" y="82.45" width="23" height="3.13" fill="#f5ca00"/><rect x="535" y="79.62" width="23" height="3.13" fill="#f6cf00"/><rect x="535" y="76.80" width="23" height="3.13" fill="#f7d500"/><rect x="535" y="73.97" width="23" height="3.13" fill="#f8da00"/><rect x="535" y="71.14" width="23" height="3.13" fill="#f9e000"/><rect x="535" y="68.31" width="23" height="3.13" fill="#fae500"/><rect x="535" y="65.48" width="23" height="3.13" fill="#fbeb00"/><rect x="535" y="62.66" width="23" height="3.13" fill="#fcf000"/><rect x="535" y="59.83" width="23" height="3.13" fill="#fef600"/><rect x="535" y="57.00" width="23" height="3.13" fill="#fffc00"/>
<path d="M535 374.5h4M557 374.5h-4" stroke="#000" stroke-width="1"/><path d="M535 328.5h4M557 328.5h-4" stroke="#000" stroke-width="1"/><path d="M535 283.5h4M557 283.5h-4" stroke="#000" stroke-width="1"/><path d="M535 238.5h4M557 238.5h-4" stroke="#000" stroke-width="1"/><path d="M535 193.5h4M557 193.5h-4" stroke="#000" stroke-width="1"/><path d="M535 148.5h4M557 148.5h-4" stroke="#000" stroke-width="1"/><path d="M535 102.5h4M557 102.5h-4" stroke="#000" stroke-width="1"/>
<rect x="74.5" y="57.5" width="450" height="362" fill="none" stroke="#000" stroke-width="1"/>
<rect x="535.5" y="57.5" width="22" height="362" fill="none" stroke="#000" stroke-width="1"/>
</g>
<g>
<text x="77.8" y="33.0" textLength="440.2" lengthAdjust="spacing">UQRG-GIM Global StdDev-VTEC maps 20240209.040.00000</text>
<text x="61.0" y="77.5" text-anchor="end">80</text>
<text x="61.0" y="118.8" text-anchor="end">60</text>
<text x="61.0" y="160.0" text-anchor="end">40</text>
<text x="61.0" y="201.3" text-anchor="end">20</text>
<text x="61.0" y="242.6" text-anchor="end">0</text>
<text x="61.0" y="283.9" text-anchor="end">-20</text>
<text x="61.0" y="325.2" text-anchor="end">-40</text>
<text x="61.0" y="366.4" text-anchor="end">-60</text>
<text x="61.0" y="407.7" text-anchor="end">-80</text>
<text x="111.6" y="443.2" text-anchor="middle">-150</text>
<text x="173.9" y="443.2" text-anchor="middle">-100</text>
<text x="236.2" y="443.2" text-anchor="middle">-50</text>
<text x="298.5" y="443.2" text-anchor="middle">0</text>
<text x="360.8" y="443.2" text-anchor="middle">50</text>
<text x="423.1" y="443.2" text-anchor="middle">100</text>
<text x="485.4" y="443.2" text-anchor="middle">150</text>
<text x="570.8" y="423.7">3</text>
<text x="570.8" y="378.4">4</text>
<text x="570.8" y="333.2">5</text>
<text x="570.8" y="287.9">6</text>
<text x="570.8" y="242.7">7</text>
<text x="570.8" y="197.4">8</text>
<text x="570.8" y="152.2">9</text>
<text x="570.8" y="107.0">10</text>
<text x="570.8" y="61.7">11</text>
<text x="241.4" y="471.0" textLength="111.6" lengthAdjust="spacing">Longitude / deg</text>
<text transform="translate(19.3,287.4) rotate(-90)" textLength="98" lengthAdjust="spacing">Latitude / deg</text>
<text transform="translate(606.3,318.8) rotate(-90)" textLength="159" lengthAdjust="spacing">StdDev-VTEC / TECU</text>
</g>
</svg>
</body></html>
